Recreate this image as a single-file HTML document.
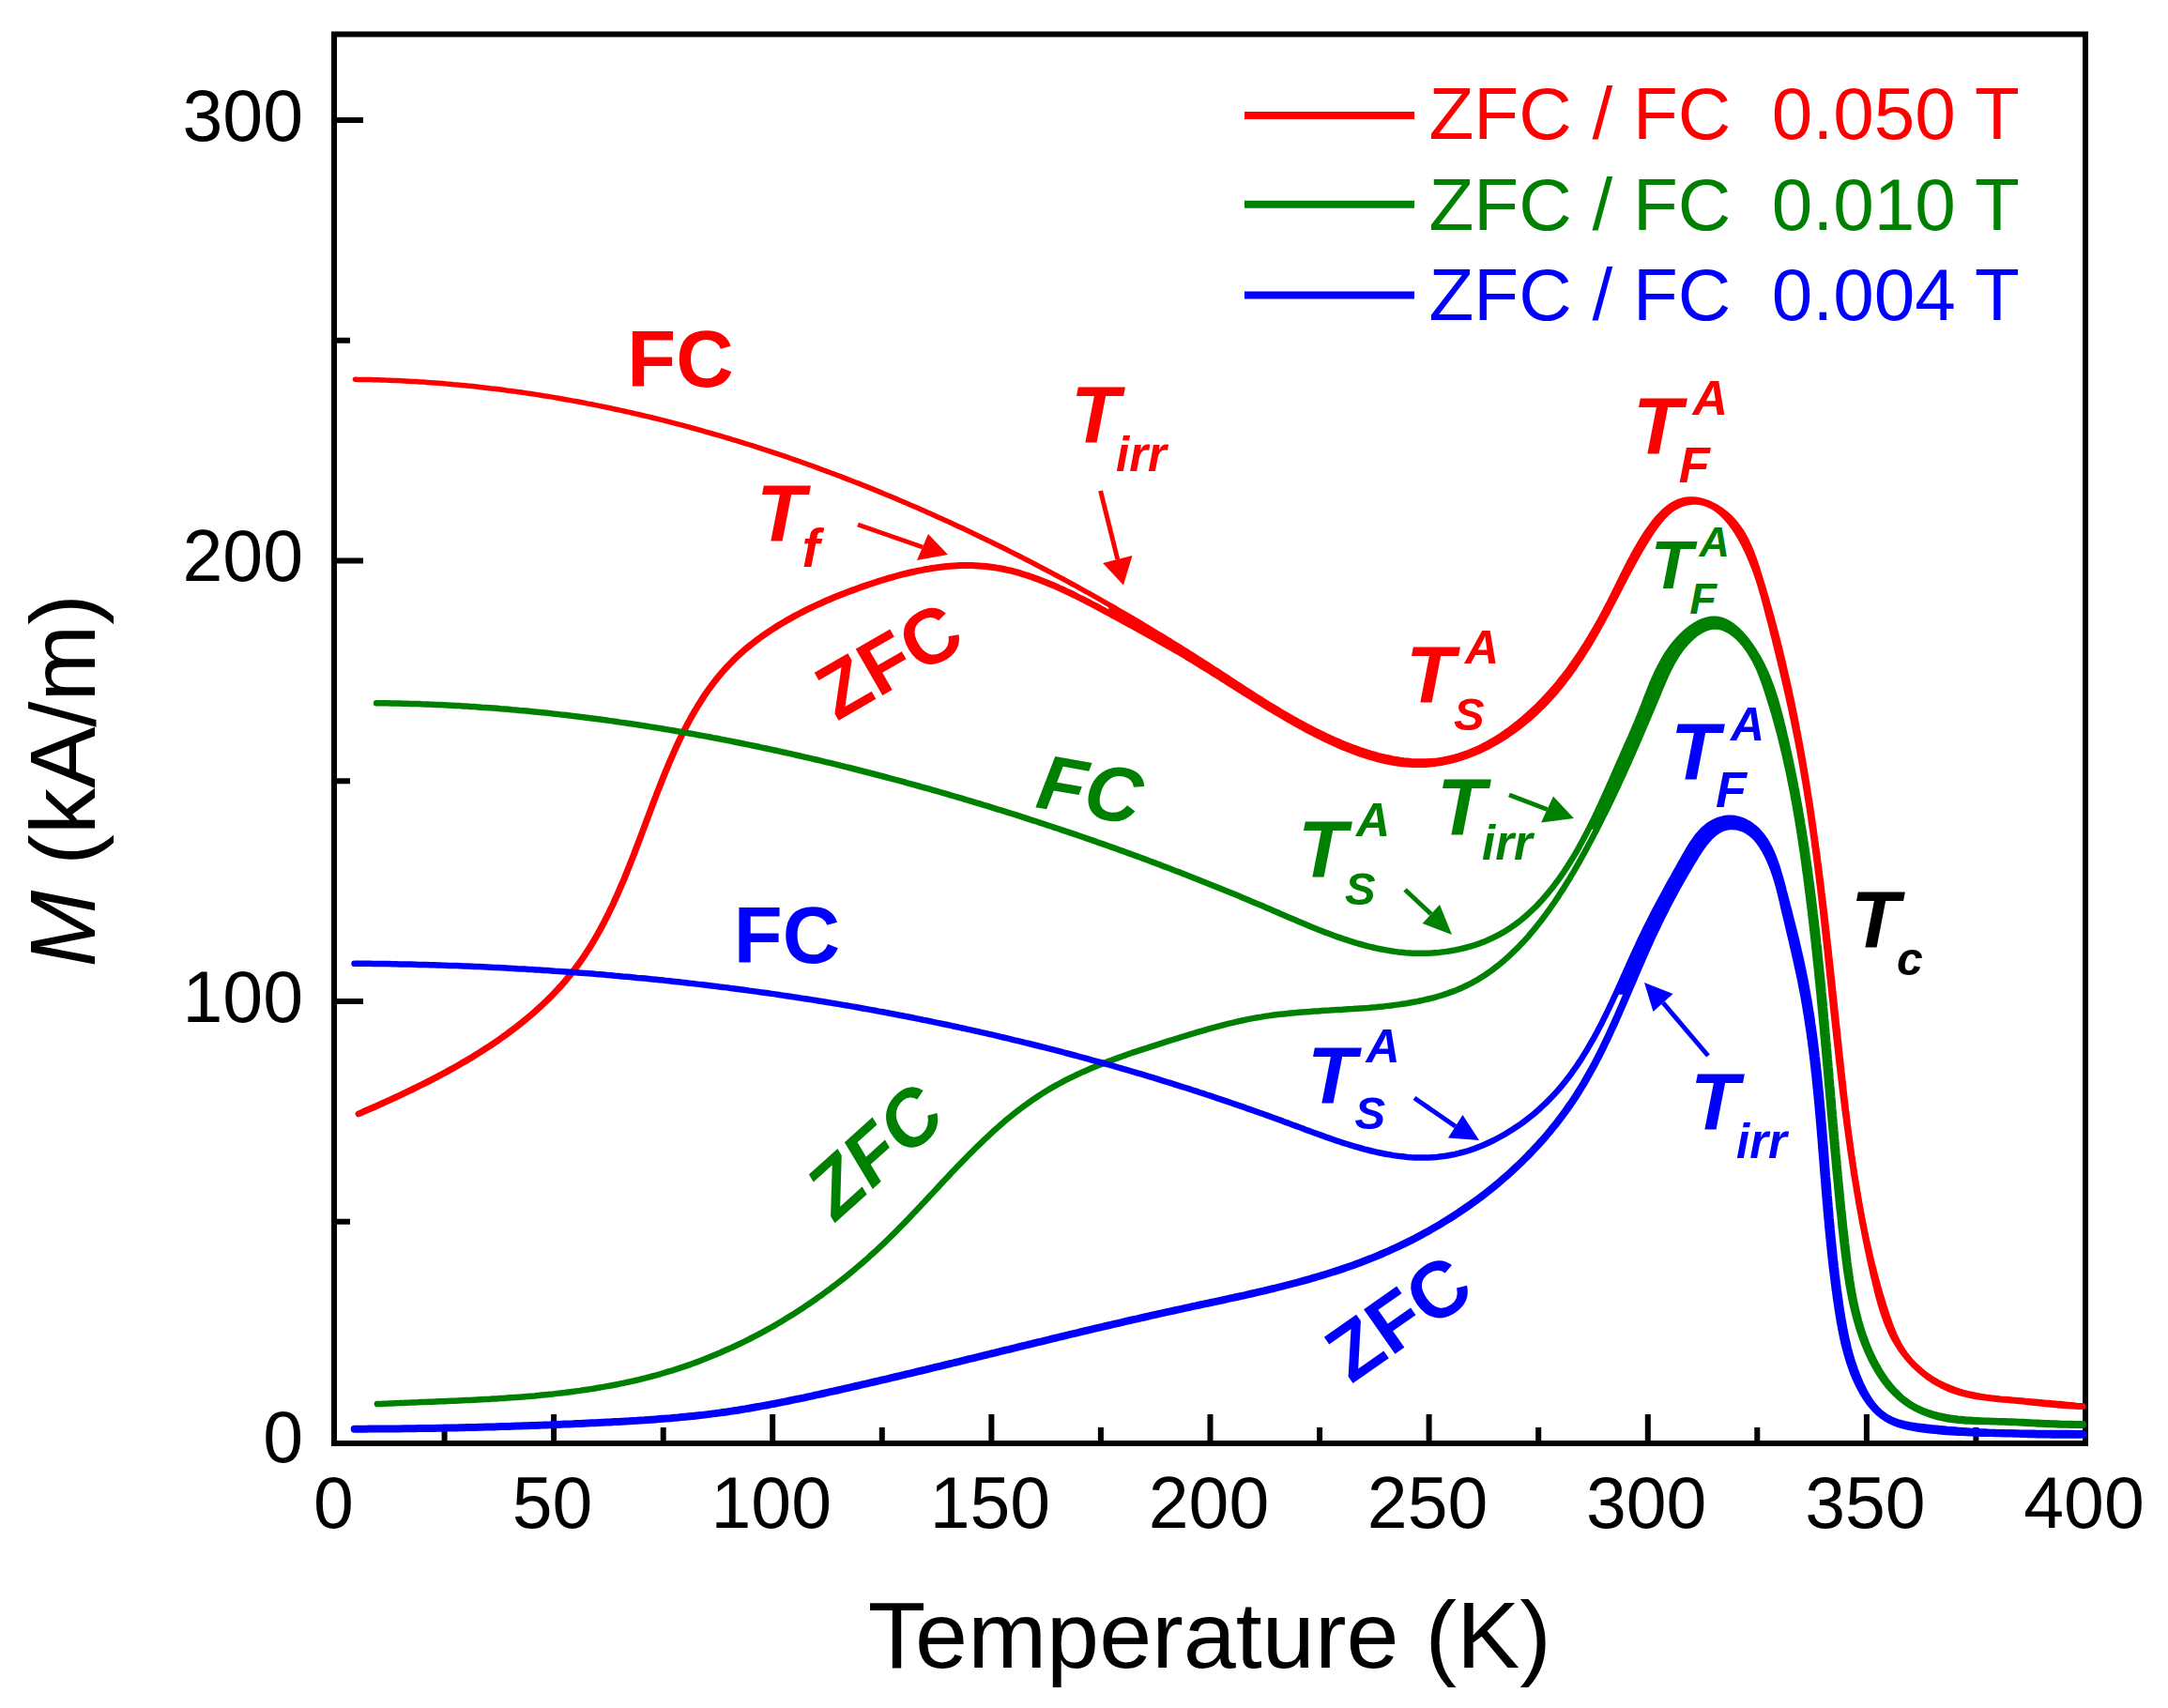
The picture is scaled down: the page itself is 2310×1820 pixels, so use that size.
<!DOCTYPE html><html><head><meta charset="utf-8"><title>M vs T</title><style>html,body{margin:0;padding:0;background:#fff;width:2310px;height:1820px;overflow:hidden}svg text{font-family:"Liberation Sans",Arial,sans-serif}</style></head><body><svg xmlns="http://www.w3.org/2000/svg" width="2310" height="1820" viewBox="0 0 2310 1820" style="display:block"><rect width="100%" height="100%" fill="#fff"/><rect x="356" y="36.5" width="1866" height="1501.5" fill="none" stroke="#000" stroke-width="6"/>
<path d="M473.6,1538.0V1521.0M590.1,1538.0V1507.0M706.7,1538.0V1521.0M823.2,1538.0V1507.0M939.8,1538.0V1521.0M1056.4,1538.0V1507.0M1172.9,1538.0V1521.0M1289.5,1538.0V1507.0M1406.1,1538.0V1521.0M1522.6,1538.0V1507.0M1639.2,1538.0V1521.0M1755.8,1538.0V1507.0M1872.3,1538.0V1521.0M1988.9,1538.0V1507.0M2105.4,1538.0V1521.0M356.0,1301.8H373.0M356.0,1067.0H387.0M356.0,832.2H373.0M356.0,597.5H387.0M356.0,362.8H373.0M356.0,128.0H387.0" stroke="#000" stroke-width="6" fill="none"/>
<text x="355.5" y="1628" style="font-size:77px" text-anchor="middle">0</text>
<text x="588.6" y="1628" style="font-size:77px" text-anchor="middle">50</text>
<text x="821.8" y="1628" style="font-size:77px" text-anchor="middle">100</text>
<text x="1054.9" y="1628" style="font-size:77px" text-anchor="middle">150</text>
<text x="1288.0" y="1628" style="font-size:77px" text-anchor="middle">200</text>
<text x="1521.1" y="1628" style="font-size:77px" text-anchor="middle">250</text>
<text x="1754.2" y="1628" style="font-size:77px" text-anchor="middle">300</text>
<text x="1987.4" y="1628" style="font-size:77px" text-anchor="middle">350</text>
<text x="2220.5" y="1628" style="font-size:77px" text-anchor="middle">400</text>
<text x="323" y="1558.0" style="font-size:77px" text-anchor="end">0</text>
<text x="323" y="1088.5" style="font-size:77px" text-anchor="end">100</text>
<text x="323" y="619.0" style="font-size:77px" text-anchor="end">200</text>
<text x="323" y="149.5" style="font-size:77px" text-anchor="end">300</text>
<text x="924.7" y="1777.0" style="font-size:100.8px;fill:#000000">Temperature (K)</text>
<text transform="translate(101,1030.5) rotate(-90)" style="font-size:98px"><tspan style="font-style:italic">M</tspan> (kA/m)</text>
<path d="M1326,123.0H1507" stroke="#ff0000" stroke-width="8"/>
<text x="1522.5" y="148.0" style="font-size:78.3px;fill:#ff0000" xml:space="preserve">ZFC / FC  0.050 T</text>
<path d="M1326,217.7H1507" stroke="#008000" stroke-width="8"/>
<text x="1522.5" y="245.0" style="font-size:78.3px;fill:#008000" xml:space="preserve">ZFC / FC  0.010 T</text>
<path d="M1326,314.6H1507" stroke="#0000ff" stroke-width="8"/>
<text x="1522.5" y="341.0" style="font-size:78.3px;fill:#0000ff" xml:space="preserve">ZFC / FC  0.004 T</text>
<path d="M1181.3,644.1L1184.8,646.0L1188.3,648.0L1191.7,650.1L1195.2,652.1L1198.7,654.1L1202.1,656.1L1205.6,658.1L1209.0,660.2L1212.5,662.2L1215.9,664.2L1219.3,666.3L1222.8,668.4L1226.2,670.4L1229.6,672.5L1233.0,674.6L1236.5,676.6L1239.9,678.7L1243.3,680.8L1246.7,682.9L1250.1,685.0L1253.5,687.1L1256.9,689.2L1260.3,691.3L1263.7,693.4L1267.0,695.6L1270.4,697.7L1273.8,699.8L1277.2,702.0L1280.5,704.1L1283.9,706.3L1287.2,708.4L1290.6,710.6L1293.9,712.7L1297.3,714.9L1300.6,717.1L1304.0,719.3L1307.3,721.4L1310.6,723.6L1314.0,725.8L1317.3,728.0L1320.7,730.1L1324.0,732.3L1327.3,734.5L1330.7,736.6L1334.1,738.8L1337.4,741.0L1340.8,743.1L1344.2,745.2L1347.5,747.4L1350.9,749.5L1354.3,751.6L1357.8,753.7L1361.2,755.7L1364.6,757.8L1368.1,759.8L1371.6,761.9L1375.0,763.9L1378.5,765.9L1382.1,767.8L1385.6,769.8L1389.2,771.7L1392.7,773.6L1396.3,775.5L1399.9,777.4L1403.6,779.2L1407.2,781.0L1410.9,782.8L1414.6,784.6L1418.4,786.3L1422.1,788.0L1425.9,789.6L1429.7,791.2L1433.5,792.8L1437.3,794.3L1441.2,795.8L1445.0,797.2L1448.9,798.6L1452.8,799.9L1456.7,801.2L1460.6,802.4L1464.5,803.5L1468.4,804.6L1472.4,805.6L1476.3,806.5L1480.2,807.3L1484.1,808.1L1488.1,808.8L1492.0,809.4L1495.9,809.9L1499.8,810.3L1503.8,810.7L1507.7,810.9L1511.6,811.0L1515.5,811.1L1519.3,811.0L1523.2,810.8L1527.1,810.6L1530.9,810.2L1534.7,809.6L1538.5,809.0L1542.3,808.3L1546.1,807.4L1549.9,806.5L1553.6,805.4L1557.3,804.2L1561.0,802.9L1564.7,801.6L1568.3,800.1L1571.9,798.5L1575.5,796.9L1579.1,795.1L1582.6,793.3L1586.1,791.4L1589.6,789.4L1593.1,787.4L1596.5,785.2L1599.9,783.0L1603.2,780.7L1606.6,778.4L1609.9,776.0L1613.1,773.5L1616.3,771.0L1619.5,768.4L1622.6,765.8L1625.7,763.1L1628.8,760.3L1631.8,757.6L1634.8,754.7L1637.8,751.9L1640.7,749.0L1643.5,746.1L1646.3,743.1L1649.1,740.1L1651.8,737.1L1654.5,734.0L1657.1,731.0L1659.7,727.9L1662.2,724.8L1664.7,721.6L1667.2,718.5L1669.6,715.3L1672.0,712.1L1674.3,708.8L1676.6,705.6L1678.9,702.3L1681.1,699.0L1683.3,695.7L1685.5,692.4L1687.6,689.1L1689.8,685.7L1691.8,682.3L1693.9,678.9L1695.9,675.5L1697.9,672.1L1699.9,668.7L1701.9,665.2L1703.8,661.7L1705.7,658.3L1707.6,654.8L1709.5,651.3L1711.3,647.7L1713.1,644.2L1715.0,640.7L1716.8,637.1L1718.5,633.6L1720.3,630.0L1722.1,626.4L1723.9,622.8L1725.6,619.3L1727.4,615.7L1729.2,612.1L1731.0,608.4L1732.8,604.8L1734.7,601.2L1736.5,597.6L1738.5,594.0L1740.4,590.3L1742.5,586.7L1744.5,583.1L1746.7,579.4L1748.8,575.8L1751.1,572.2L1753.4,568.6L1755.8,565.0L1758.3,561.5L1760.8,558.1L1763.4,554.8L1766.1,551.6L1768.9,548.6L1771.7,545.8L1774.6,543.1L1777.6,540.7L1780.6,538.6L1783.7,536.7L1786.9,535.1L1790.2,533.8L1793.5,532.8L1797.0,532.2L1800.5,531.9L1804.0,531.9L1807.6,532.3L1811.1,532.9L1814.7,533.8L1818.3,535.0L1821.8,536.4L1825.3,538.1L1828.7,539.9L1832.0,542.0L1835.3,544.3L1838.4,546.7L1841.4,549.3L1844.3,552.1L1847.1,555.0L1849.6,558.0L1852.0,561.1L1854.3,564.3L1856.4,567.6L1858.4,571.0L1860.3,574.5L1862.0,578.1L1863.7,581.7L1865.3,585.4L1866.8,589.1L1868.2,592.9L1869.6,596.7L1870.9,600.5L1872.2,604.4L1873.4,608.3L1874.6,612.2L1875.8,616.1L1877.0,620.0L1878.2,623.9L1879.4,627.8L1880.5,631.7L1881.7,635.6L1882.8,639.5L1883.9,643.4L1885.0,647.3L1886.1,651.2L1887.2,655.1L1888.3,659.0L1889.3,662.9L1890.4,666.8L1891.4,670.7L1892.4,674.6L1893.4,678.5L1894.4,682.4L1895.4,686.4L1896.4,690.3L1897.4,694.2L1898.3,698.1L1899.3,702.0L1900.2,706.0L1901.1,709.9L1902.0,713.8L1902.9,717.7L1903.8,721.6L1904.7,725.6L1905.6,729.5L1906.5,733.4L1907.3,737.4L1908.1,741.3L1909.0,745.2L1909.8,749.1L1910.6,753.1L1911.4,757.0L1912.2,760.9L1913.0,764.9L1913.8,768.8L1914.6,772.8L1915.3,776.7L1916.1,780.6L1916.8,784.6L1917.5,788.5L1918.3,792.5L1919.0,796.4L1919.7,800.4L1920.4,804.3L1921.1,808.2L1921.8,812.2L1922.5,816.1L1923.1,820.1L1923.8,824.0L1924.5,828.0L1925.1,831.9L1925.8,835.9L1926.4,839.8L1927.0,843.8L1927.6,847.8L1928.3,851.7L1928.9,855.7L1929.5,859.6L1930.1,863.6L1930.7,867.5L1931.2,871.5L1931.8,875.5L1932.4,879.4L1933.0,883.4L1933.5,887.3L1934.1,891.3L1934.6,895.3L1935.2,899.2L1935.7,903.2L1936.3,907.2L1936.8,911.1L1937.3,915.1L1937.8,919.1L1938.4,923.0L1938.9,927.0L1939.4,931.0L1939.9,935.0L1940.4,938.9L1940.9,942.9L1941.4,946.9L1941.8,950.8L1942.3,954.8L1942.8,958.8L1943.3,962.8L1943.8,966.7L1944.2,970.7L1944.7,974.7L1945.2,978.7L1945.6,982.7L1946.1,986.6L1946.5,990.6L1947.0,994.6L1947.4,998.6L1947.9,1002.5L1948.3,1006.5L1948.8,1010.5L1949.2,1014.5L1949.6,1018.5L1950.1,1022.5L1950.5,1026.4L1950.9,1030.4L1951.4,1034.4L1951.8,1038.4L1952.2,1042.4L1952.7,1046.4L1953.1,1050.3L1953.5,1054.3L1953.9,1058.3L1954.4,1062.3L1954.8,1066.3L1955.2,1070.3L1955.6,1074.3L1956.1,1078.3L1956.5,1082.2L1956.9,1086.2L1957.3,1090.2L1957.7,1094.2L1958.2,1098.2L1958.6,1102.2L1959.0,1106.2L1959.4,1110.2L1959.9,1114.2L1960.3,1118.2L1960.7,1122.2L1961.1,1126.1L1961.6,1130.1L1962.0,1134.1L1962.4,1138.1L1962.8,1142.1L1963.3,1146.1L1963.7,1150.1L1964.2,1154.1L1964.6,1158.1L1965.0,1162.1L1965.5,1166.1L1965.9,1170.1L1966.4,1174.1L1966.9,1178.0L1967.3,1182.0L1967.8,1186.0L1968.3,1190.0L1968.8,1194.0L1969.2,1198.0L1969.7,1202.0L1970.2,1206.0L1970.7,1209.9L1971.3,1213.9L1971.8,1217.9L1972.3,1221.9L1972.9,1225.9L1973.4,1229.8L1974.0,1233.8L1974.5,1237.8L1975.1,1241.8L1975.7,1245.7L1976.3,1249.7L1976.9,1253.7L1977.5,1257.6L1978.2,1261.6L1978.8,1265.6L1979.5,1269.5L1980.1,1273.5L1980.8,1277.4L1981.5,1281.4L1982.2,1285.3L1982.9,1289.3L1983.7,1293.2L1984.4,1297.2L1985.2,1301.1L1986.0,1305.0L1986.8,1309.0L1987.6,1312.9L1988.4,1316.8L1989.2,1320.8L1989.3,1326.9L1988.5,1323.0L1987.7,1319.0L1986.9,1315.1L1986.2,1311.2L1985.4,1307.2L1984.6,1303.3L1983.9,1299.4L1983.2,1295.4L1982.5,1291.5L1981.7,1287.5L1981.0,1283.6L1980.3,1279.6L1979.7,1275.7L1979.0,1271.7L1978.3,1267.8L1977.7,1263.8L1977.0,1259.9L1976.4,1255.9L1975.7,1252.0L1975.1,1248.0L1974.5,1244.0L1973.9,1240.1L1973.3,1236.1L1972.7,1232.2L1972.1,1228.2L1971.5,1224.2L1971.0,1220.3L1970.4,1216.3L1969.9,1212.3L1969.3,1208.4L1968.8,1204.4L1968.2,1200.4L1967.7,1196.5L1967.2,1192.5L1966.6,1188.5L1966.1,1184.5L1965.6,1180.6L1965.1,1176.6L1964.6,1172.6L1964.1,1168.6L1963.6,1164.7L1963.1,1160.7L1962.7,1156.7L1962.2,1152.7L1961.7,1148.8L1961.2,1144.8L1960.8,1140.8L1960.3,1136.8L1959.8,1132.8L1959.4,1128.9L1958.9,1124.9L1958.5,1120.9L1958.1,1116.9L1957.6,1112.9L1957.2,1109.0L1956.7,1105.0L1956.3,1101.0L1955.9,1097.0L1955.4,1093.0L1955.0,1089.0L1954.6,1085.1L1954.1,1081.1L1953.7,1077.1L1953.3,1073.1L1952.9,1069.1L1952.5,1065.1L1952.0,1061.2L1951.6,1057.2L1951.2,1053.2L1950.8,1049.2L1950.4,1045.2L1949.9,1041.2L1949.5,1037.3L1949.1,1033.3L1948.7,1029.3L1948.2,1025.3L1947.8,1021.3L1947.4,1017.3L1947.0,1013.4L1946.5,1009.4L1946.1,1005.4L1945.7,1001.4L1945.3,997.4L1944.8,993.5L1944.4,989.5L1943.9,985.5L1943.5,981.5L1943.1,977.5L1942.6,973.6L1942.2,969.6L1941.7,965.6L1941.2,961.6L1940.8,957.6L1940.3,953.7L1939.8,949.7L1939.4,945.7L1938.9,941.7L1938.4,937.8L1937.9,933.8L1937.4,929.8L1936.9,925.8L1936.4,921.9L1935.9,917.9L1935.4,913.9L1934.9,909.9L1934.4,906.0L1933.8,902.0L1933.3,898.0L1932.8,894.1L1932.2,890.1L1931.7,886.1L1931.1,882.2L1930.5,878.2L1930.0,874.2L1929.4,870.3L1928.8,866.3L1928.2,862.3L1927.6,858.4L1927.0,854.4L1926.3,850.5L1925.7,846.5L1925.1,842.5L1924.4,838.6L1923.8,834.6L1923.1,830.7L1922.4,826.7L1921.8,822.8L1921.1,818.8L1920.4,814.9L1919.7,810.9L1918.9,807.0L1918.2,803.0L1917.5,799.1L1916.7,795.1L1916.0,791.2L1915.2,787.2L1914.4,783.3L1913.6,779.3L1912.8,775.4L1912.0,771.5L1911.2,767.5L1910.3,763.6L1909.5,759.7L1908.7,755.7L1907.8,751.8L1906.9,747.9L1906.1,744.0L1905.2,740.0L1904.3,736.1L1903.4,732.2L1902.5,728.3L1901.6,724.4L1900.7,720.5L1899.8,716.6L1898.9,712.7L1897.9,708.8L1897.0,704.9L1896.0,701.0L1895.1,697.2L1894.1,693.3L1893.2,689.4L1892.2,685.6L1891.3,681.7L1890.3,677.8L1889.3,674.0L1888.4,670.1L1887.4,666.3L1886.4,662.5L1885.4,658.6L1884.4,654.8L1883.4,651.0L1882.4,647.2L1881.4,643.4L1880.4,639.6L1879.4,635.8L1878.3,632.0L1877.2,628.2L1876.1,624.4L1874.9,620.6L1873.7,616.8L1872.4,613.0L1871.1,609.2L1869.7,605.4L1868.2,601.7L1866.7,597.9L1865.1,594.0L1863.4,590.2L1861.7,586.4L1859.8,582.6L1857.9,578.8L1855.8,575.0L1853.7,571.3L1851.5,567.6L1849.2,564.1L1846.8,560.6L1844.3,557.3L1841.7,554.1L1839.0,551.0L1836.2,548.2L1833.4,545.6L1830.4,543.2L1827.3,541.0L1824.2,539.1L1820.9,537.5L1817.6,536.2L1814.1,535.2L1810.6,534.6L1807.0,534.3L1803.3,534.3L1799.7,534.7L1796.0,535.4L1792.4,536.5L1788.9,537.8L1785.5,539.5L1782.2,541.5L1779.1,543.8L1776.1,546.4L1773.3,549.2L1770.5,552.2L1767.9,555.3L1765.3,558.6L1762.8,562.0L1760.4,565.4L1758.1,568.9L1755.9,572.4L1753.7,575.9L1751.5,579.4L1749.4,582.9L1747.3,586.5L1745.3,590.0L1743.3,593.5L1741.4,597.0L1739.5,600.5L1737.6,604.0L1735.7,607.5L1733.8,611.0L1732.0,614.5L1730.2,618.0L1728.3,621.5L1726.5,625.1L1724.7,628.6L1722.9,632.1L1721.1,635.6L1719.2,639.2L1717.4,642.7L1715.5,646.2L1713.7,649.8L1711.8,653.3L1709.9,656.8L1708.0,660.3L1706.1,663.8L1704.1,667.4L1702.2,670.9L1700.2,674.3L1698.2,677.8L1696.2,681.3L1694.1,684.7L1692.1,688.2L1690.0,691.6L1687.8,695.0L1685.7,698.4L1683.5,701.8L1681.3,705.1L1679.0,708.4L1676.8,711.7L1674.4,715.0L1672.1,718.3L1669.7,721.5L1667.3,724.7L1664.8,727.9L1662.3,731.0L1659.8,734.1L1657.2,737.2L1654.5,740.2L1651.9,743.2L1649.1,746.2L1646.4,749.1L1643.5,752.0L1640.7,754.8L1637.7,757.7L1634.8,760.4L1631.7,763.1L1628.7,765.8L1625.6,768.4L1622.4,771.0L1619.2,773.5L1616.0,776.0L1612.7,778.4L1609.4,780.7L1606.1,783.0L1602.7,785.2L1599.3,787.4L1595.8,789.4L1592.3,791.5L1588.8,793.4L1585.3,795.3L1581.7,797.1L1578.1,798.8L1574.5,800.5L1570.8,802.0L1567.1,803.5L1563.4,804.9L1559.7,806.2L1556.0,807.4L1552.2,808.6L1548.5,809.6L1544.7,810.6L1540.9,811.4L1537.1,812.2L1533.2,812.8L1529.4,813.4L1525.6,813.8L1521.7,814.2L1517.8,814.4L1514.0,814.6L1510.1,814.6L1506.2,814.5L1502.3,814.3L1498.5,814.1L1494.6,813.7L1490.7,813.2L1486.8,812.7L1482.9,812.0L1479.0,811.3L1475.2,810.5L1471.3,809.6L1467.4,808.6L1463.5,807.5L1459.7,806.4L1455.8,805.2L1452.0,804.0L1448.1,802.7L1444.3,801.3L1440.5,799.8L1436.6,798.3L1432.8,796.8L1429.0,795.2L1425.2,793.6L1421.5,791.9L1417.7,790.1L1414.0,788.4L1410.2,786.6L1406.5,784.7L1402.8,782.9L1399.1,781.0L1395.5,779.1L1391.8,777.1L1388.2,775.1L1384.6,773.2L1381.0,771.2L1377.5,769.2L1373.9,767.2L1370.4,765.1L1366.9,763.1L1363.4,761.0L1359.9,759.0L1356.5,756.9L1353.0,754.9L1349.6,752.8L1346.2,750.7L1342.8,748.6L1339.4,746.5L1336.1,744.5L1332.7,742.4L1329.4,740.3L1326.0,738.2L1322.7,736.1L1319.3,734.0L1316.0,731.9L1312.7,729.8L1309.3,727.7L1306.0,725.6L1302.7,723.5L1299.4,721.4L1296.1,719.3L1292.7,717.2L1289.4,715.1L1286.1,713.0L1282.7,710.9L1279.4,708.9L1276.0,706.8L1272.7,704.7L1269.3,702.7L1265.9,700.7L1262.5,698.6L1259.1,696.6L1255.7,694.6L1252.3,692.6L1248.8,690.6L1245.4,688.6L1241.9,686.6L1238.4,684.7L1234.9,682.7L1231.4,680.7L1227.9,678.8L1224.4,676.8L1220.9,674.9L1217.3,672.9L1213.8,671.0L1210.2,669.0L1206.6,667.0L1203.1,665.1L1199.5,663.1L1195.9,661.2L1192.3,659.2L1188.7,657.2L1185.0,655.3L1181.4,653.3Z" fill="#ff0000"/>
<path d="M382.1,1186.9L385.6,1185.4L389.1,1183.8L392.6,1182.3L396.1,1180.8L399.7,1179.2L403.2,1177.6L406.7,1176.0L410.3,1174.4L413.9,1172.8L417.4,1171.1L421.0,1169.5L424.6,1167.8L428.2,1166.1L431.8,1164.4L435.4,1162.7L439.0,1161.0L442.6,1159.2L446.2,1157.4L449.8,1155.7L453.4,1153.8L457.0,1152.0L460.6,1150.2L464.1,1148.3L467.7,1146.4L471.3,1144.5L474.9,1142.6L478.4,1140.6L482.0,1138.7L485.5,1136.7L489.0,1134.7L492.6,1132.6L496.1,1130.6L499.6,1128.5L503.1,1126.4L506.5,1124.3L510.0,1122.1L513.4,1120.0L516.8,1117.8L520.2,1115.6L523.6,1113.3L527.0,1111.1L530.3,1108.8L533.6,1106.5L536.9,1104.1L540.2,1101.8L543.4,1099.4L546.7,1096.9L549.9,1094.5L553.0,1092.0L556.2,1089.5L559.3,1087.0L562.4,1084.4L565.4,1081.9L568.4,1079.3L571.4,1076.6L574.4,1073.9L577.3,1071.2L580.2,1068.5L583.1,1065.8L585.9,1063.0L588.7,1060.2L591.4,1057.3L594.1,1054.4L596.8,1051.5L599.4,1048.6L602.0,1045.6L604.5,1042.6L607.0,1039.6L609.5,1036.5L611.9,1033.4L614.3,1030.2L616.6,1027.1L618.9,1023.9L621.1,1020.6L623.3,1017.4L625.4,1014.1L627.6,1010.8L629.7,1007.4L631.7,1004.1L633.7,1000.7L635.7,997.3L637.6,993.8L639.6,990.4L641.4,986.9L643.3,983.4L645.1,979.8L646.9,976.3L648.7,972.7L650.4,969.1L652.2,965.5L653.9,961.9L655.5,958.2L657.2,954.6L658.8,950.9L660.4,947.2L662.0,943.5L663.6,939.8L665.2,936.1L666.7,932.3L668.2,928.6L669.7,924.8L671.2,921.1L672.7,917.3L674.2,913.5L675.7,909.7L677.1,905.9L678.6,902.1L680.0,898.3L681.5,894.5L682.9,890.7L684.3,886.9L685.8,883.0L687.2,879.2L688.6,875.4L690.1,871.6L691.5,867.8L692.9,864.0L694.4,860.1L695.8,856.3L697.2,852.5L698.7,848.7L700.1,844.9L701.6,841.2L703.1,837.4L704.6,833.6L706.1,829.8L707.6,826.1L709.1,822.4L710.7,818.6L712.2,814.9L713.8,811.2L715.4,807.5L717.0,803.8L718.6,800.2L720.3,796.5L721.9,792.9L723.6,789.3L725.3,785.7L727.1,782.1L728.9,778.6L730.7,775.1L732.5,771.5L734.4,768.1L736.3,764.6L738.2,761.2L740.2,757.8L742.2,754.4L744.2,751.1L746.3,747.8L748.4,744.5L750.5,741.2L752.7,738.0L755.0,734.8L757.2,731.7L759.6,728.6L761.9,725.5L764.3,722.5L766.8,719.5L769.3,716.5L771.9,713.6L774.5,710.7L777.2,707.9L779.9,705.1L782.7,702.3L785.5,699.6L788.4,696.9L791.3,694.3L794.3,691.7L797.3,689.2L800.4,686.7L803.6,684.3L806.7,681.8L809.9,679.5L813.2,677.1L816.5,674.8L819.8,672.6L823.2,670.4L826.6,668.2L830.0,666.1L833.5,664.0L837.0,661.9L840.6,659.9L844.1,657.9L847.7,655.9L851.4,654.0L855.0,652.1L858.7,650.2L862.4,648.4L866.1,646.6L869.8,644.9L873.6,643.2L877.4,641.5L881.1,639.8L884.9,638.2L888.8,636.6L892.6,635.0L896.4,633.5L900.3,632.0L904.1,630.5L908.0,629.1L911.9,627.7L915.7,626.3L919.6,624.9L923.5,623.6L927.4,622.3L931.2,621.0L935.1,619.7L939.0,618.5L942.8,617.3L946.7,616.2L950.6,615.1L954.4,614.0L958.3,612.9L962.2,611.9L966.0,611.0L969.9,610.0L973.8,609.2L977.6,608.3L981.5,607.6L985.3,606.8L989.2,606.2L993.0,605.5L996.9,605.0L1000.7,604.4L1004.6,604.0L1008.4,603.6L1012.3,603.2L1016.1,603.0L1020.0,602.8L1023.8,602.6L1027.6,602.5L1031.5,602.5L1035.3,602.6L1039.1,602.7L1042.9,602.9L1046.7,603.2L1050.6,603.5L1054.4,604.0L1058.2,604.5L1062.0,605.1L1065.8,605.7L1069.6,606.5L1073.4,607.3L1077.2,608.2L1081.0,609.2L1084.8,610.2L1088.5,611.3L1092.3,612.5L1096.1,613.7L1099.9,615.0L1103.6,616.4L1107.4,617.7L1111.1,619.2L1114.9,620.7L1118.6,622.2L1122.4,623.8L1126.1,625.4L1129.8,627.1L1133.6,628.8L1137.3,630.6L1141.0,632.3L1144.7,634.1L1148.4,636.0L1152.1,637.8L1155.8,639.7L1159.5,641.6L1163.1,643.5L1166.8,645.4L1170.5,647.4L1174.1,649.3L1177.8,651.3L1181.4,653.3L1185.0,655.3L1188.7,657.2L1192.3,659.2L1195.9,661.2L1199.5,663.1L1203.1,665.1L1206.6,667.0L1210.2,669.0L1213.8,671.0L1217.3,672.9L1220.9,674.9L1224.4,676.8L1227.9,678.8L1231.4,680.7L1234.9,682.7L1238.4,684.7L1241.9,686.6L1245.4,688.6L1248.8,690.6L1252.3,692.6L1255.7,694.6L1259.1,696.6L1262.5,698.6L1265.9,700.7L1269.3,702.7L1272.7,704.7L1276.0,706.8L1279.4,708.9L1282.7,710.9L1286.1,713.0L1289.4,715.1L1292.7,717.2L1296.1,719.3L1299.4,721.4L1302.7,723.5L1306.0,725.6L1309.3,727.7L1312.7,729.8L1316.0,731.9L1319.3,734.0L1322.7,736.1L1326.0,738.2L1329.4,740.3L1332.7,742.4L1336.1,744.5L1339.4,746.5L1342.8,748.6L1346.2,750.7L1349.6,752.8L1353.0,754.9L1356.5,756.9L1359.9,759.0L1363.4,761.0L1366.9,763.1L1370.4,765.1L1373.9,767.2L1377.5,769.2L1381.0,771.2L1384.6,773.2L1388.2,775.1L1391.8,777.1L1395.5,779.1L1399.1,781.0L1402.8,782.9L1406.5,784.7L1410.2,786.6L1414.0,788.4L1417.7,790.1L1421.5,791.9L1425.2,793.6L1429.0,795.2L1432.8,796.8L1436.6,798.3L1440.5,799.8L1444.3,801.3L1448.1,802.7L1452.0,804.0L1455.8,805.2L1459.7,806.4L1463.5,807.5L1467.4,808.6L1471.3,809.6L1475.2,810.5L1479.0,811.3L1482.9,812.0L1486.8,812.7L1490.7,813.2L1494.6,813.7L1498.5,814.1L1502.3,814.3L1506.2,814.5L1510.1,814.6L1514.0,814.6L1517.8,814.4L1521.7,814.2L1525.6,813.8L1529.4,813.4L1533.2,812.8L1537.1,812.2L1540.9,811.4L1544.7,810.6L1548.5,809.6L1552.2,808.6L1556.0,807.4L1559.7,806.2L1563.4,804.9L1567.1,803.5L1570.8,802.0L1574.5,800.5L1578.1,798.8L1581.7,797.1L1585.3,795.3L1588.8,793.4L1592.3,791.5L1595.8,789.4L1599.3,787.4L1602.7,785.2L1606.1,783.0L1609.4,780.7L1612.7,778.4L1616.0,776.0L1619.2,773.5L1622.4,771.0L1625.6,768.4L1628.7,765.8L1631.7,763.1L1634.8,760.4L1637.7,757.7L1640.7,754.8L1643.5,752.0L1646.4,749.1L1649.1,746.2L1651.9,743.2L1654.5,740.2L1657.2,737.2L1659.8,734.1L1662.3,731.0L1664.8,727.9L1667.3,724.7L1669.7,721.5L1672.1,718.3L1674.4,715.0L1676.8,711.7L1679.0,708.4L1681.3,705.1L1683.5,701.8L1685.7,698.4L1687.8,695.0L1690.0,691.6L1692.1,688.2L1694.1,684.7L1696.2,681.3L1698.2,677.8L1700.2,674.3L1702.2,670.9L1704.1,667.4L1706.1,663.8L1708.0,660.3L1709.9,656.8L1711.8,653.3L1713.7,649.8L1715.5,646.2L1717.4,642.7L1719.2,639.2L1721.1,635.6L1722.9,632.1L1724.7,628.6L1726.5,625.1L1728.3,621.5L1730.2,618.0L1732.0,614.5L1733.8,611.0L1735.7,607.5L1737.6,604.0L1739.5,600.5L1741.4,597.0L1743.3,593.5L1745.3,590.0L1747.3,586.5L1749.4,582.9L1751.5,579.4L1753.7,575.9L1755.9,572.4L1758.1,568.9L1760.4,565.4L1762.8,562.0L1765.3,558.6L1767.9,555.3L1770.5,552.2L1773.3,549.2L1776.1,546.4L1779.1,543.8L1782.2,541.5L1785.5,539.5L1788.9,537.8L1792.4,536.5L1796.0,535.4L1799.7,534.7L1803.3,534.3L1807.0,534.3L1810.6,534.6L1814.1,535.2L1817.6,536.2L1820.9,537.5L1824.2,539.1L1827.3,541.0L1830.4,543.2L1833.4,545.6L1836.2,548.2L1839.0,551.0L1841.7,554.1L1844.3,557.3L1846.8,560.6L1849.2,564.1L1851.5,567.6L1853.7,571.3L1855.8,575.0L1857.9,578.8L1859.8,582.6L1861.7,586.4L1863.4,590.2L1865.1,594.0L1866.7,597.9L1868.2,601.7L1869.7,605.4L1871.1,609.2L1872.4,613.0L1873.7,616.8L1874.9,620.6L1876.1,624.4L1877.2,628.2L1878.3,632.0L1879.4,635.8L1880.4,639.6L1881.4,643.4L1882.4,647.2L1883.4,651.0L1884.4,654.8L1885.4,658.6L1886.4,662.5L1887.4,666.3L1888.4,670.1L1889.3,674.0L1890.3,677.8L1891.3,681.7L1892.2,685.6L1893.2,689.4L1894.1,693.3L1895.1,697.2L1896.0,701.0L1897.0,704.9L1897.9,708.8L1898.9,712.7L1899.8,716.6L1900.7,720.5L1901.6,724.4L1902.5,728.3L1903.4,732.2L1904.3,736.1L1905.2,740.0L1906.1,744.0L1906.9,747.9L1907.8,751.8L1908.7,755.7L1909.5,759.7L1910.3,763.6L1911.2,767.5L1912.0,771.5L1912.8,775.4L1913.6,779.3L1914.4,783.3L1915.2,787.2L1916.0,791.2L1916.7,795.1L1917.5,799.1L1918.2,803.0L1918.9,807.0L1919.7,810.9L1920.4,814.9L1921.1,818.8L1921.8,822.8L1922.4,826.7L1923.1,830.7L1923.8,834.6L1924.4,838.6L1925.1,842.5L1925.7,846.5L1926.3,850.5L1927.0,854.4L1927.6,858.4L1928.2,862.3L1928.8,866.3L1929.4,870.3L1930.0,874.2L1930.5,878.2L1931.1,882.2L1931.7,886.1L1932.2,890.1L1932.8,894.1L1933.3,898.0L1933.8,902.0L1934.4,906.0L1934.9,909.9L1935.4,913.9L1935.9,917.9L1936.4,921.9L1936.9,925.8L1937.4,929.8L1937.9,933.8L1938.4,937.8L1938.9,941.7L1939.4,945.7L1939.8,949.7L1940.3,953.7L1940.8,957.6L1941.2,961.6L1941.7,965.6L1942.2,969.6L1942.6,973.6L1943.1,977.5L1943.5,981.5L1943.9,985.5L1944.4,989.5L1944.8,993.5L1945.3,997.4L1945.7,1001.4L1946.1,1005.4L1946.5,1009.4L1947.0,1013.4L1947.4,1017.3L1947.8,1021.3L1948.2,1025.3L1948.7,1029.3L1949.1,1033.3L1949.5,1037.3L1949.9,1041.2L1950.4,1045.2L1950.8,1049.2L1951.2,1053.2L1951.6,1057.2L1952.0,1061.2L1952.5,1065.1L1952.9,1069.1L1953.3,1073.1L1953.7,1077.1L1954.1,1081.1L1954.6,1085.1L1955.0,1089.0L1955.4,1093.0L1955.9,1097.0L1956.3,1101.0L1956.7,1105.0L1957.2,1109.0L1957.6,1112.9L1958.1,1116.9L1958.5,1120.9L1958.9,1124.9L1959.4,1128.9L1959.8,1132.8L1960.3,1136.8L1960.8,1140.8L1961.2,1144.8L1961.7,1148.8L1962.2,1152.7L1962.7,1156.7L1963.1,1160.7L1963.6,1164.7L1964.1,1168.6L1964.6,1172.6L1965.1,1176.6L1965.6,1180.6L1966.1,1184.5L1966.6,1188.5L1967.2,1192.5L1967.7,1196.5L1968.2,1200.4L1968.8,1204.4L1969.3,1208.4L1969.9,1212.3L1970.4,1216.3L1971.0,1220.3L1971.5,1224.2L1972.1,1228.2L1972.7,1232.2L1973.3,1236.1L1973.9,1240.1L1974.5,1244.0L1975.1,1248.0L1975.7,1252.0L1976.4,1255.9L1977.0,1259.9L1977.7,1263.8L1978.3,1267.8L1979.0,1271.7L1979.7,1275.7L1980.3,1279.6L1981.0,1283.6L1981.7,1287.5L1982.5,1291.5L1983.2,1295.4L1983.9,1299.4L1984.6,1303.3L1985.4,1307.2L1986.2,1311.2L1986.9,1315.1L1987.7,1319.0L1988.5,1323.0L1989.3,1326.9L1990.1,1330.8L1990.9,1334.8L1991.8,1338.7L1992.6,1342.6L1993.5,1346.5L1994.4,1350.5L1995.2,1354.4L1996.1,1358.3L1997.0,1362.2L1998.0,1366.1L1998.9,1370.1L1999.9,1374.0L2000.8,1377.9L2001.8,1381.7L2002.9,1385.6L2004.0,1389.5L2005.1,1393.3L2006.3,1397.1L2007.6,1400.9L2008.9,1404.7L2010.3,1408.4L2011.7,1412.1L2013.3,1415.7L2014.9,1419.3L2016.7,1422.9L2018.5,1426.4L2020.5,1429.8L2022.6,1433.2L2024.7,1436.6L2027.1,1439.9L2029.5,1443.1L2032.0,1446.2L2034.6,1449.3L2037.4,1452.3L2040.2,1455.2L2043.1,1457.9L2046.1,1460.6L2049.2,1463.2L2052.4,1465.7L2055.6,1468.1L2059.0,1470.4L2062.4,1472.5L2065.8,1474.5L2069.4,1476.4L2072.9,1478.1L2076.6,1479.7L2080.3,1481.2L2084.0,1482.5L2087.8,1483.7L2091.6,1484.7L2095.5,1485.7L2099.3,1486.5L2103.3,1487.3L2107.2,1488.0L2111.2,1488.6L2115.2,1489.1L2119.2,1489.6L2123.2,1490.1L2127.2,1490.5L2131.2,1490.9L2135.3,1491.2L2139.3,1491.6L2143.3,1492.0L2147.3,1492.3L2151.3,1492.7L2155.3,1493.1L2159.3,1493.5L2163.3,1494.0L2167.3,1494.4L2171.2,1494.8L2175.2,1495.3L2179.1,1495.7L2183.1,1496.1L2187.1,1496.5L2191.0,1496.8L2195.0,1497.2L2199.0,1497.5L2203.0,1497.8L2207.0,1498.0L2211.0,1498.3L2215.0,1498.4L2219.1,1498.5" stroke="#ff0000" stroke-width="7" fill="none" stroke-linejoin="round" stroke-linecap="round"/>
<path d="M378.5,404.3L382.6,404.4L386.6,404.4L390.7,404.5L394.7,404.6L398.8,404.7L402.8,404.8L406.9,404.9L410.9,405.1L415.0,405.2L419.0,405.4L423.0,405.6L427.1,405.8L431.1,406.0L435.2,406.2L439.2,406.4L443.2,406.6L447.3,406.9L451.3,407.1L455.3,407.4L459.3,407.7L463.4,408.0L467.4,408.3L471.4,408.6L475.4,409.0L479.4,409.3L483.4,409.7L487.4,410.0L491.5,410.4L495.5,410.8L499.5,411.2L503.5,411.6L507.5,412.0L511.5,412.5L515.5,412.9L519.5,413.4L523.4,413.9L527.4,414.3L531.4,414.8L535.4,415.3L539.4,415.9L543.4,416.4L547.4,416.9L551.3,417.5L555.3,418.0L559.3,418.6L563.3,419.2L567.2,419.8L571.2,420.4L575.2,421.0L579.1,421.7L583.1,422.3L587.0,422.9L591.0,423.6L594.9,424.3L598.9,425.0L602.8,425.7L606.8,426.4L610.7,427.1L614.7,427.8L618.6,428.5L622.6,429.3L626.5,430.1L630.4,430.8L634.4,431.6L638.3,432.4L642.2,433.2L646.1,434.0L650.0,434.8L654.0,435.7L657.9,436.5L661.8,437.4L665.7,438.2L669.6,439.1L673.5,440.0L677.4,440.9L681.3,441.8L685.2,442.7L689.1,443.6L693.0,444.5L696.9,445.5L700.8,446.4L704.7,447.4L708.6,448.4L712.5,449.4L716.3,450.4L720.2,451.4L724.1,452.4L728.0,453.4L731.8,454.4L735.7,455.5L739.6,456.5L743.4,457.6L747.3,458.7L751.1,459.8L755.0,460.9L758.8,462.0L762.7,463.1L766.5,464.2L770.4,465.3L774.2,466.5L778.0,467.6L781.9,468.8L785.7,469.9L789.5,471.1L793.4,472.3L797.2,473.5L801.0,474.7L804.8,475.9L808.6,477.1L812.4,478.4L816.3,479.6L820.1,480.8L823.9,482.1L827.7,483.4L831.5,484.7L835.3,485.9L839.1,487.2L842.8,488.5L846.6,489.8L850.4,491.2L854.2,492.5L858.0,493.8L861.7,495.2L865.5,496.5L869.3,497.9L873.1,499.3L876.8,500.7L880.6,502.1L884.3,503.5L888.1,504.9L891.8,506.3L895.6,507.7L899.3,509.1L903.1,510.6L906.8,512.0L910.5,513.5L914.3,514.9L918.0,516.4L921.7,517.9L925.5,519.4L929.2,520.9L932.9,522.4L936.6,523.9L940.3,525.4L944.0,527.0L947.7,528.5L951.4,530.0L955.1,531.6L958.8,533.2L962.5,534.7L966.2,536.3L969.9,537.9L973.6,539.5L977.3,541.1L980.9,542.7L984.6,544.3L988.3,545.9L991.9,547.6L995.6,549.2L999.3,550.9L1002.9,552.5L1006.6,554.2L1010.2,555.8L1013.9,557.5L1017.5,559.2L1021.2,560.9L1024.8,562.6L1028.4,564.3L1032.1,566.0L1035.7,567.7L1039.3,569.5L1042.9,571.2L1046.5,572.9L1050.2,574.7L1053.8,576.4L1057.4,578.2L1061.0,580.0L1064.6,581.7L1068.2,583.5L1071.8,585.3L1075.3,587.1L1078.9,588.9L1082.5,590.7L1086.1,592.5L1089.7,594.4L1093.2,596.2L1096.8,598.0L1100.4,599.9L1103.9,601.7L1107.5,603.6L1111.0,605.5L1114.6,607.3L1118.1,609.2L1121.7,611.1L1125.2,613.0L1128.7,614.9L1132.3,616.8L1135.8,618.7L1139.3,620.6L1142.8,622.5L1146.4,624.4L1149.9,626.4L1153.4,628.3L1156.9,630.3L1160.4,632.2L1163.9,634.2L1167.4,636.1L1170.9,638.1L1174.4,640.1L1177.8,642.1L1181.3,644.1L1184.8,646.0L1188.3,648.0L1191.7,650.1L1195.2,652.1L1198.7,654.1L1202.1,656.1L1205.6,658.1L1209.0,660.2L1212.5,662.2L1215.9,664.2L1219.3,666.3L1222.8,668.4L1226.2,670.4L1229.6,672.5L1233.0,674.6L1236.5,676.6L1239.9,678.7L1243.3,680.8L1246.7,682.9L1250.1,685.0L1253.5,687.1L1256.9,689.2L1260.3,691.3L1263.7,693.4L1267.0,695.6L1270.4,697.7L1273.8,699.8L1277.2,702.0L1280.5,704.1L1283.9,706.3L1287.2,708.4L1290.6,710.6L1293.9,712.7L1297.3,714.9L1300.6,717.1L1304.0,719.3L1307.3,721.4L1310.6,723.6L1314.0,725.8L1317.3,728.0L1320.7,730.1L1324.0,732.3L1327.3,734.5L1330.7,736.6L1334.1,738.8L1337.4,741.0L1340.8,743.1L1344.2,745.2L1347.5,747.4L1350.9,749.5L1354.3,751.6L1357.8,753.7L1361.2,755.7L1364.6,757.8L1368.1,759.8L1371.6,761.9L1375.0,763.9L1378.5,765.9L1382.1,767.8L1385.6,769.8L1389.2,771.7L1392.7,773.6L1396.3,775.5L1399.9,777.4L1403.6,779.2L1407.2,781.0L1410.9,782.8L1414.6,784.6L1418.4,786.3L1422.1,788.0L1425.9,789.6L1429.7,791.2L1433.5,792.8L1437.3,794.3L1441.2,795.8L1445.0,797.2L1448.9,798.6L1452.8,799.9L1456.7,801.2L1460.6,802.4L1464.5,803.5L1468.4,804.6L1472.4,805.6L1476.3,806.5L1480.2,807.3L1484.1,808.1L1488.1,808.8L1492.0,809.4L1495.9,809.9L1499.8,810.3L1503.8,810.7L1507.7,810.9L1511.6,811.0L1515.5,811.1L1519.3,811.0L1523.2,810.8L1527.1,810.6L1530.9,810.2L1534.7,809.6L1538.5,809.0L1542.3,808.3L1546.1,807.4L1549.9,806.5L1553.6,805.4L1557.3,804.2L1561.0,802.9L1564.7,801.6L1568.3,800.1L1571.9,798.5L1575.5,796.9L1579.1,795.1L1582.6,793.3L1586.1,791.4L1589.6,789.4L1593.1,787.4L1596.5,785.2L1599.9,783.0L1603.2,780.7L1606.6,778.4L1609.9,776.0L1613.1,773.5L1616.3,771.0L1619.5,768.4L1622.6,765.8L1625.7,763.1L1628.8,760.3L1631.8,757.6L1634.8,754.7L1637.8,751.9L1640.7,749.0L1643.5,746.1L1646.3,743.1L1649.1,740.1L1651.8,737.1L1654.5,734.0L1657.1,731.0L1659.7,727.9L1662.2,724.8L1664.7,721.6L1667.2,718.5L1669.6,715.3L1672.0,712.1L1674.3,708.8L1676.6,705.6L1678.9,702.3L1681.1,699.0L1683.3,695.7L1685.5,692.4L1687.6,689.1L1689.8,685.7L1691.8,682.3L1693.9,678.9L1695.9,675.5L1697.9,672.1L1699.9,668.7L1701.9,665.2L1703.8,661.7L1705.7,658.3L1707.6,654.8L1709.5,651.3L1711.3,647.7L1713.1,644.2L1715.0,640.7L1716.8,637.1L1718.5,633.6L1720.3,630.0L1722.1,626.4L1723.9,622.8L1725.6,619.3L1727.4,615.7L1729.2,612.1L1731.0,608.4L1732.8,604.8L1734.7,601.2L1736.5,597.6L1738.5,594.0L1740.4,590.3L1742.5,586.7L1744.5,583.1L1746.7,579.4L1748.8,575.8L1751.1,572.2L1753.4,568.6L1755.8,565.0L1758.3,561.5L1760.8,558.1L1763.4,554.8L1766.1,551.6L1768.9,548.6L1771.7,545.8L1774.6,543.1L1777.6,540.7L1780.6,538.6L1783.7,536.7L1786.9,535.1L1790.2,533.8L1793.5,532.8L1797.0,532.2L1800.5,531.9L1804.0,531.9L1807.6,532.3L1811.1,532.9L1814.7,533.8L1818.3,535.0L1821.8,536.4L1825.3,538.1L1828.7,539.9L1832.0,542.0L1835.3,544.3L1838.4,546.7L1841.4,549.3L1844.3,552.1L1847.1,555.0L1849.6,558.0L1852.0,561.1L1854.3,564.3L1856.4,567.6L1858.4,571.0L1860.3,574.5L1862.0,578.1L1863.7,581.7L1865.3,585.4L1866.8,589.1L1868.2,592.9L1869.6,596.7L1870.9,600.5L1872.2,604.4L1873.4,608.3L1874.6,612.2L1875.8,616.1L1877.0,620.0L1878.2,623.9L1879.4,627.8L1880.5,631.7L1881.7,635.6L1882.8,639.5L1883.9,643.4L1885.0,647.3L1886.1,651.2L1887.2,655.1L1888.3,659.0L1889.3,662.9L1890.4,666.8L1891.4,670.7L1892.4,674.6L1893.4,678.5L1894.4,682.4L1895.4,686.4L1896.4,690.3L1897.4,694.2L1898.3,698.1L1899.3,702.0L1900.2,706.0L1901.1,709.9L1902.0,713.8L1902.9,717.7L1903.8,721.6L1904.7,725.6L1905.6,729.5L1906.5,733.4L1907.3,737.4L1908.1,741.3L1909.0,745.2L1909.8,749.1L1910.6,753.1L1911.4,757.0L1912.2,760.9L1913.0,764.9L1913.8,768.8L1914.6,772.8L1915.3,776.7L1916.1,780.6L1916.8,784.6L1917.5,788.5L1918.3,792.5L1919.0,796.4L1919.7,800.4L1920.4,804.3L1921.1,808.2L1921.8,812.2L1922.5,816.1L1923.1,820.1L1923.8,824.0L1924.5,828.0L1925.1,831.9L1925.8,835.9L1926.4,839.8L1927.0,843.8L1927.6,847.8L1928.3,851.7L1928.9,855.7L1929.5,859.6L1930.1,863.6L1930.7,867.5L1931.2,871.5L1931.8,875.5L1932.4,879.4L1933.0,883.4L1933.5,887.3L1934.1,891.3L1934.6,895.3L1935.2,899.2L1935.7,903.2L1936.3,907.2L1936.8,911.1L1937.3,915.1L1937.8,919.1L1938.4,923.0L1938.9,927.0L1939.4,931.0L1939.9,935.0L1940.4,938.9L1940.9,942.9L1941.4,946.9L1941.8,950.8L1942.3,954.8L1942.8,958.8L1943.3,962.8L1943.8,966.7L1944.2,970.7L1944.7,974.7L1945.2,978.7L1945.6,982.7L1946.1,986.6L1946.5,990.6L1947.0,994.6L1947.4,998.6L1947.9,1002.5L1948.3,1006.5L1948.8,1010.5L1949.2,1014.5L1949.6,1018.5L1950.1,1022.5L1950.5,1026.4L1950.9,1030.4L1951.4,1034.4L1951.8,1038.4L1952.2,1042.4L1952.7,1046.4L1953.1,1050.3L1953.5,1054.3L1953.9,1058.3L1954.4,1062.3L1954.8,1066.3L1955.2,1070.3L1955.6,1074.3L1956.1,1078.3L1956.5,1082.2L1956.9,1086.2L1957.3,1090.2L1957.7,1094.2L1958.2,1098.2L1958.6,1102.2L1959.0,1106.2L1959.4,1110.2L1959.9,1114.2L1960.3,1118.2L1960.7,1122.2L1961.1,1126.1L1961.6,1130.1L1962.0,1134.1L1962.4,1138.1L1962.8,1142.1L1963.3,1146.1L1963.7,1150.1L1964.2,1154.1L1964.6,1158.1L1965.0,1162.1L1965.5,1166.1L1965.9,1170.1L1966.4,1174.1L1966.9,1178.0L1967.3,1182.0L1967.8,1186.0L1968.3,1190.0L1968.8,1194.0L1969.2,1198.0L1969.7,1202.0L1970.2,1206.0L1970.7,1209.9L1971.3,1213.9L1971.8,1217.9L1972.3,1221.9L1972.9,1225.9L1973.4,1229.8L1974.0,1233.8L1974.5,1237.8L1975.1,1241.8L1975.7,1245.7L1976.3,1249.7L1976.9,1253.7L1977.5,1257.6L1978.2,1261.6L1978.8,1265.6L1979.5,1269.5L1980.1,1273.5L1980.8,1277.4L1981.5,1281.4L1982.2,1285.3L1982.9,1289.3L1983.7,1293.2L1984.4,1297.2L1985.2,1301.1L1986.0,1305.0L1986.8,1309.0L1987.6,1312.9L1988.4,1316.8L1989.2,1320.8L1990.1,1324.7L1991.0,1328.6L1991.9,1332.5L1992.8,1336.4L1993.7,1340.3L1994.6,1344.2L1995.6,1348.1L1996.6,1352.0L1997.6,1355.9L1998.6,1359.8L1999.7,1363.7L2000.7,1367.6L2001.8,1371.5L2002.9,1375.3L2004.0,1379.2L2005.2,1383.1L2006.4,1386.9L2007.5,1390.8L2008.8,1394.6L2010.0,1398.5L2011.3,1402.3L2012.6,1406.1L2013.9,1409.9L2015.3,1413.7L2016.8,1417.4L2018.3,1421.1L2020.0,1424.7L2021.7,1428.2L2023.5,1431.7L2025.4,1435.2L2027.4,1438.5L2029.5,1441.8L2031.7,1444.9L2034.1,1448.0L2036.6,1451.0L2039.3,1453.8L2042.1,1456.6L2045.1,1459.2L2048.1,1461.7L2051.3,1464.1L2054.6,1466.4L2058.0,1468.6L2061.5,1470.6L2065.0,1472.6L2068.7,1474.4L2072.4,1476.2L2076.1,1477.8L2079.9,1479.3L2083.8,1480.8L2087.7,1482.1L2091.6,1483.3L2095.5,1484.3L2099.4,1485.3L2103.4,1486.2L2107.3,1487.0L2111.3,1487.8L2115.3,1488.4L2119.3,1489.0L2123.3,1489.6L2127.3,1490.0L2131.3,1490.5L2135.3,1490.8L2139.3,1491.2L2143.3,1491.5L2147.3,1491.8L2151.3,1492.1L2155.3,1492.4L2159.3,1492.7L2163.3,1493.0L2167.3,1493.3L2171.2,1493.6L2175.2,1493.9L2179.2,1494.3L2183.2,1494.6L2187.1,1494.9L2191.1,1495.3L2195.1,1495.6L2199.0,1496.0L2203.0,1496.4L2207.0,1496.8L2211.0,1497.3L2215.0,1497.7L2219.0,1498.2" stroke="#ff0000" stroke-width="5.5" fill="none" stroke-linejoin="round" stroke-linecap="round"/>
<path d="M1692.4,884.0L1694.3,880.3L1696.1,876.6L1698.0,872.9L1699.8,869.1L1701.6,865.4L1703.3,861.6L1705.1,857.9L1706.8,854.1L1708.5,850.4L1710.2,846.6L1711.9,842.9L1713.6,839.1L1715.2,835.4L1716.9,831.7L1718.5,828.0L1720.1,824.3L1721.7,820.7L1723.3,817.0L1724.9,813.4L1726.5,809.8L1728.1,806.2L1729.6,802.7L1731.2,799.2L1732.7,795.7L1734.3,792.2L1735.8,788.7L1737.4,785.3L1738.9,781.8L1740.4,778.3L1741.9,774.8L1743.4,771.3L1744.9,767.8L1746.3,764.2L1747.8,760.6L1749.2,757.0L1750.7,753.3L1752.1,749.5L1753.5,745.8L1755.0,742.0L1756.5,738.2L1758.0,734.4L1759.5,730.6L1761.1,726.8L1762.7,723.0L1764.4,719.3L1766.2,715.5L1768.0,711.8L1769.9,708.2L1771.9,704.5L1774.0,701.0L1776.1,697.4L1778.4,694.0L1780.8,690.6L1783.3,687.3L1786.0,684.1L1788.8,681.0L1791.7,677.9L1794.7,675.0L1797.9,672.3L1801.1,669.7L1804.4,667.4L1807.8,665.3L1811.3,663.5L1814.7,662.0L1818.2,660.9L1821.7,660.1L1825.1,659.7L1828.5,659.8L1831.9,660.3L1835.2,661.2L1838.4,662.5L1841.6,664.2L1844.7,666.2L1847.7,668.5L1850.7,671.0L1853.5,673.8L1856.3,676.8L1859.0,679.9L1861.6,683.1L1864.0,686.4L1866.4,689.7L1868.7,693.2L1870.8,696.6L1872.9,700.1L1874.9,703.6L1876.7,707.2L1878.5,710.8L1880.2,714.4L1881.9,718.1L1883.4,721.8L1884.9,725.6L1886.3,729.3L1887.7,733.1L1889.0,736.9L1890.2,740.8L1891.5,744.6L1892.6,748.5L1893.7,752.4L1894.8,756.3L1895.8,760.2L1896.9,764.1L1897.9,768.0L1898.8,771.9L1899.8,775.8L1900.7,779.8L1901.6,783.7L1902.6,787.6L1903.5,791.6L1904.3,795.5L1905.2,799.4L1906.1,803.3L1906.9,807.3L1907.8,811.2L1908.6,815.1L1909.4,819.1L1910.2,823.0L1911.0,826.9L1911.8,830.9L1912.6,834.8L1913.3,838.8L1914.1,842.7L1914.8,846.6L1915.5,850.6L1916.2,854.5L1917.0,858.5L1917.6,862.4L1918.3,866.3L1919.0,870.3L1919.7,874.2L1920.3,878.2L1921.0,882.1L1921.6,886.1L1922.2,890.0L1922.9,894.0L1923.5,897.9L1924.1,901.9L1924.7,905.8L1925.3,909.8L1925.8,913.8L1926.4,917.7L1927.0,921.7L1927.5,925.6L1928.1,929.6L1928.6,933.6L1929.1,937.5L1929.7,941.5L1930.2,945.5L1930.7,949.4L1931.2,953.4L1931.7,957.4L1932.2,961.3L1932.7,965.3L1933.2,969.3L1933.6,973.3L1934.1,977.3L1934.6,981.2L1935.0,985.2L1935.5,989.2L1935.9,993.2L1936.4,997.2L1936.8,1001.1L1937.2,1005.1L1937.7,1009.1L1938.1,1013.1L1938.5,1017.1L1938.9,1021.1L1939.3,1025.1L1939.7,1029.1L1940.1,1033.1L1940.5,1037.1L1940.9,1041.1L1941.3,1045.1L1941.7,1049.0L1942.1,1053.0L1942.4,1057.0L1942.8,1061.0L1943.2,1065.0L1943.6,1069.0L1943.9,1073.0L1944.3,1077.0L1944.7,1081.0L1945.0,1085.0L1945.4,1089.0L1945.7,1093.0L1946.1,1097.0L1946.4,1101.0L1946.8,1105.0L1947.1,1109.1L1947.5,1113.1L1947.8,1117.1L1948.2,1121.1L1948.5,1125.1L1948.8,1129.1L1949.2,1133.1L1949.5,1137.1L1949.9,1141.1L1950.2,1145.1L1950.5,1149.1L1950.9,1153.1L1951.2,1157.1L1951.6,1161.1L1951.9,1165.1L1952.2,1169.1L1952.6,1173.1L1952.9,1177.1L1953.2,1181.1L1953.6,1185.1L1953.9,1189.1L1954.3,1193.1L1954.6,1197.1L1955.0,1201.1L1955.3,1205.1L1955.7,1209.1L1956.0,1213.1L1956.4,1217.1L1956.7,1221.1L1957.1,1225.1L1957.4,1229.1L1957.8,1233.1L1958.2,1237.1L1958.5,1241.1L1958.9,1245.0L1959.3,1249.0L1959.6,1253.0L1960.0,1257.0L1960.4,1261.0L1960.8,1265.0L1961.2,1269.0L1961.5,1272.9L1961.9,1276.9L1962.3,1280.9L1962.7,1284.9L1963.1,1288.9L1963.6,1292.8L1964.0,1296.8L1964.4,1300.8L1964.8,1304.8L1965.2,1308.7L1965.7,1312.7L1966.1,1316.7L1966.6,1320.7L1967.0,1324.6L1967.5,1328.6L1967.9,1332.5L1968.4,1336.5L1968.9,1340.5L1969.3,1344.4L1969.8,1348.4L1970.4,1352.3L1970.9,1356.3L1971.5,1360.2L1972.0,1364.2L1972.7,1368.1L1973.3,1372.1L1974.0,1376.0L1974.7,1379.9L1975.4,1383.8L1976.2,1387.8L1977.1,1391.7L1977.9,1395.6L1978.9,1399.5L1979.9,1403.4L1980.9,1407.3L1982.0,1411.2L1983.2,1415.1L1984.4,1418.9L1985.7,1422.8L1987.1,1426.7L1988.5,1430.5L1988.7,1437.9L1987.2,1434.1L1985.7,1430.3L1984.3,1426.4L1982.9,1422.5L1981.6,1418.6L1980.3,1414.7L1979.2,1410.8L1978.0,1406.9L1977.0,1403.0L1976.0,1399.1L1975.0,1395.2L1974.1,1391.3L1973.2,1387.3L1972.4,1383.4L1971.6,1379.5L1970.8,1375.5L1970.1,1371.6L1969.4,1367.7L1968.8,1363.7L1968.2,1359.8L1967.6,1355.9L1967.0,1351.9L1966.5,1348.0L1966.0,1344.0L1965.5,1340.1L1965.0,1336.1L1964.5,1332.2L1964.0,1328.2L1963.6,1324.3L1963.1,1320.3L1962.7,1316.3L1962.3,1312.4L1961.8,1308.4L1961.4,1304.4L1961.0,1300.5L1960.6,1296.5L1960.2,1292.5L1959.7,1288.6L1959.3,1284.6L1958.9,1280.6L1958.5,1276.6L1958.1,1272.7L1957.7,1268.7L1957.3,1264.7L1957.0,1260.7L1956.6,1256.8L1956.2,1252.8L1955.8,1248.8L1955.4,1244.8L1955.0,1240.8L1954.7,1236.8L1954.3,1232.9L1953.9,1228.9L1953.6,1224.9L1953.2,1220.9L1952.8,1216.9L1952.5,1212.9L1952.1,1208.9L1951.7,1204.9L1951.4,1200.9L1951.0,1196.9L1950.6,1192.9L1950.3,1189.0L1949.9,1185.0L1949.6,1181.0L1949.2,1177.0L1948.9,1173.0L1948.5,1169.0L1948.2,1165.0L1947.8,1161.0L1947.4,1157.0L1947.1,1153.0L1946.7,1149.0L1946.4,1145.0L1946.0,1141.0L1945.7,1137.0L1945.3,1133.0L1945.0,1129.0L1944.6,1125.0L1944.2,1121.0L1943.9,1117.0L1943.5,1113.0L1943.2,1109.0L1942.8,1105.0L1942.4,1101.0L1942.1,1097.0L1941.7,1093.0L1941.3,1089.0L1940.9,1085.0L1940.6,1081.0L1940.2,1077.0L1939.8,1073.0L1939.4,1069.0L1939.0,1065.0L1938.7,1061.0L1938.3,1057.0L1937.9,1053.0L1937.5,1049.0L1937.1,1045.1L1936.7,1041.1L1936.3,1037.1L1935.9,1033.1L1935.5,1029.1L1935.0,1025.1L1934.6,1021.1L1934.2,1017.1L1933.8,1013.1L1933.3,1009.1L1932.9,1005.2L1932.5,1001.2L1932.0,997.2L1931.6,993.2L1931.1,989.2L1930.7,985.2L1930.2,981.3L1929.7,977.3L1929.3,973.3L1928.8,969.3L1928.3,965.4L1927.8,961.4L1927.3,957.4L1926.8,953.4L1926.3,949.5L1925.8,945.5L1925.3,941.5L1924.8,937.6L1924.3,933.6L1923.7,929.6L1923.2,925.7L1922.6,921.7L1922.1,917.8L1921.5,913.8L1921.0,909.9L1920.4,905.9L1919.8,901.9L1919.2,898.0L1918.6,894.1L1918.0,890.1L1917.4,886.2L1916.8,882.2L1916.1,878.3L1915.5,874.3L1914.8,870.4L1914.1,866.5L1913.5,862.5L1912.8,858.6L1912.1,854.7L1911.3,850.7L1910.6,846.8L1909.9,842.9L1909.1,839.0L1908.3,835.0L1907.5,831.1L1906.7,827.2L1905.9,823.3L1905.1,819.4L1904.2,815.4L1903.3,811.5L1902.5,807.6L1901.6,803.7L1900.6,799.8L1899.7,795.9L1898.7,792.0L1897.8,788.1L1896.8,784.2L1895.8,780.3L1894.7,776.4L1893.7,772.5L1892.6,768.6L1891.5,764.7L1890.4,760.8L1889.3,757.0L1888.1,753.1L1886.9,749.2L1885.7,745.3L1884.5,741.4L1883.3,737.6L1882.0,733.7L1880.7,729.8L1879.3,726.0L1877.9,722.1L1876.4,718.3L1874.9,714.6L1873.3,710.8L1871.5,707.2L1869.7,703.5L1867.7,700.0L1865.6,696.5L1863.4,693.0L1861.0,689.7L1858.5,686.4L1855.9,683.3L1853.2,680.4L1850.3,677.7L1847.4,675.3L1844.3,673.1L1841.2,671.2L1838.1,669.7L1834.9,668.5L1831.6,667.7L1828.3,667.4L1825.0,667.6L1821.7,668.1L1818.4,669.1L1815.1,670.5L1811.8,672.2L1808.6,674.2L1805.5,676.5L1802.5,679.1L1799.5,681.9L1796.7,684.8L1793.9,688.0L1791.3,691.2L1788.9,694.6L1786.6,698.0L1784.4,701.5L1782.3,705.1L1780.4,708.7L1778.5,712.4L1776.7,716.2L1774.9,719.9L1773.3,723.7L1771.6,727.5L1770.0,731.3L1768.4,735.1L1766.8,738.9L1765.3,742.7L1763.7,746.4L1762.1,750.2L1760.6,753.9L1759.0,757.6L1757.4,761.3L1755.9,765.0L1754.3,768.7L1752.8,772.3L1751.2,776.0L1749.6,779.6L1748.1,783.3L1746.5,786.9L1745.0,790.5L1743.4,794.1L1741.8,797.7L1740.3,801.3L1738.7,804.9L1737.1,808.5L1735.5,812.1L1733.9,815.7L1732.3,819.2L1730.7,822.8L1729.1,826.3L1727.4,829.9L1725.8,833.5L1724.2,837.0L1722.5,840.6L1720.8,844.1L1719.2,847.6L1717.5,851.2L1715.8,854.7L1714.0,858.3L1712.3,861.8L1710.6,865.4L1708.8,868.9L1707.0,872.5L1705.2,876.1L1703.4,879.6L1701.6,883.2Z" fill="#008000"/>
<path d="M401.9,1496.1L405.8,1495.9L409.7,1495.7L413.5,1495.6L417.4,1495.4L421.3,1495.2L425.2,1495.1L429.2,1494.9L433.1,1494.7L437.0,1494.6L441.0,1494.4L444.9,1494.3L448.9,1494.1L452.8,1494.0L456.8,1493.8L460.8,1493.7L464.7,1493.5L468.7,1493.3L472.7,1493.2L476.7,1493.0L480.7,1492.8L484.7,1492.7L488.7,1492.5L492.7,1492.3L496.7,1492.1L500.7,1491.9L504.8,1491.7L508.8,1491.5L512.8,1491.3L516.8,1491.1L520.9,1490.9L524.9,1490.6L528.9,1490.4L533.0,1490.1L537.0,1489.9L541.1,1489.6L545.1,1489.3L549.1,1489.0L553.2,1488.7L557.2,1488.4L561.2,1488.1L565.3,1487.7L569.3,1487.4L573.3,1487.0L577.4,1486.6L581.4,1486.2L585.4,1485.8L589.5,1485.4L593.5,1484.9L597.5,1484.4L601.5,1484.0L605.5,1483.5L609.5,1483.0L613.6,1482.4L617.6,1481.9L621.6,1481.3L625.5,1480.7L629.5,1480.1L633.5,1479.5L637.5,1478.8L641.5,1478.1L645.4,1477.4L649.4,1476.7L653.3,1476.0L657.3,1475.2L661.2,1474.4L665.2,1473.6L669.1,1472.7L673.0,1471.9L676.9,1471.0L680.8,1470.1L684.7,1469.1L688.6,1468.2L692.5,1467.2L696.3,1466.1L700.2,1465.1L704.0,1464.0L707.8,1462.9L711.7,1461.7L715.5,1460.6L719.3,1459.4L723.1,1458.1L726.9,1456.9L730.6,1455.6L734.4,1454.3L738.1,1453.0L741.9,1451.6L745.6,1450.2L749.3,1448.8L753.0,1447.3L756.7,1445.8L760.4,1444.3L764.1,1442.8L767.7,1441.2L771.4,1439.6L775.0,1438.0L778.6,1436.4L782.3,1434.7L785.9,1433.0L789.4,1431.3L793.0,1429.6L796.6,1427.8L800.1,1426.0L803.7,1424.2L807.2,1422.3L810.7,1420.5L814.2,1418.6L817.7,1416.7L821.2,1414.7L824.6,1412.8L828.1,1410.8L831.5,1408.7L834.9,1406.7L838.3,1404.6L841.7,1402.5L845.1,1400.4L848.5,1398.3L851.8,1396.1L855.2,1394.0L858.5,1391.7L861.8,1389.5L865.1,1387.3L868.4,1385.0L871.6,1382.7L874.9,1380.4L878.1,1378.0L881.3,1375.7L884.6,1373.3L887.7,1370.9L890.9,1368.5L894.1,1366.0L897.2,1363.6L900.4,1361.1L903.5,1358.6L906.6,1356.0L909.7,1353.5L912.7,1350.9L915.8,1348.3L918.8,1345.7L921.9,1343.1L924.9,1340.4L927.8,1337.7L930.8,1335.0L933.8,1332.3L936.7,1329.6L939.6,1326.8L942.6,1324.1L945.4,1321.3L948.3,1318.5L951.2,1315.7L954.0,1312.8L956.9,1310.0L959.7,1307.1L962.5,1304.2L965.3,1301.4L968.1,1298.5L970.9,1295.5L973.6,1292.6L976.4,1289.7L979.2,1286.8L981.9,1283.8L984.7,1280.9L987.4,1278.0L990.2,1275.0L992.9,1272.1L995.7,1269.1L998.4,1266.2L1001.1,1263.3L1003.9,1260.3L1006.6,1257.4L1009.4,1254.5L1012.1,1251.5L1014.9,1248.6L1017.7,1245.7L1020.4,1242.8L1023.2,1239.9L1026.0,1237.0L1028.8,1234.2L1031.6,1231.3L1034.4,1228.5L1037.2,1225.7L1040.1,1222.8L1042.9,1220.1L1045.8,1217.3L1048.7,1214.5L1051.6,1211.8L1054.5,1209.1L1057.4,1206.4L1060.3,1203.7L1063.3,1201.1L1066.3,1198.5L1069.3,1195.9L1072.3,1193.3L1075.4,1190.8L1078.5,1188.3L1081.6,1185.8L1084.7,1183.4L1087.9,1181.0L1091.0,1178.6L1094.2,1176.3L1097.5,1174.0L1100.7,1171.7L1104.0,1169.5L1107.4,1167.3L1110.7,1165.1L1114.1,1163.0L1117.5,1160.9L1121.0,1158.9L1124.5,1156.9L1128.0,1155.0L1131.5,1153.1L1135.1,1151.2L1138.7,1149.4L1142.4,1147.6L1146.0,1145.8L1149.7,1144.1L1153.4,1142.4L1157.2,1140.8L1160.9,1139.1L1164.7,1137.5L1168.4,1136.0L1172.2,1134.4L1176.1,1132.9L1179.9,1131.4L1183.7,1130.0L1187.6,1128.5L1191.4,1127.1L1195.3,1125.7L1199.1,1124.4L1203.0,1123.0L1206.9,1121.7L1210.8,1120.4L1214.6,1119.1L1218.5,1117.8L1222.4,1116.6L1226.2,1115.3L1230.1,1114.1L1234.0,1112.8L1237.8,1111.6L1241.7,1110.4L1245.5,1109.2L1249.3,1108.0L1253.1,1106.8L1256.9,1105.7L1260.7,1104.5L1264.5,1103.3L1268.2,1102.2L1272.0,1101.1L1275.7,1099.9L1279.5,1098.8L1283.2,1097.8L1287.0,1096.7L1290.7,1095.6L1294.5,1094.6L1298.2,1093.6L1302.0,1092.6L1305.7,1091.6L1309.5,1090.7L1313.2,1089.8L1317.0,1088.9L1320.8,1088.0L1324.6,1087.2L1328.4,1086.4L1332.3,1085.6L1336.1,1084.9L1340.0,1084.2L1343.9,1083.6L1347.8,1082.9L1351.7,1082.4L1355.7,1081.8L1359.6,1081.3L1363.6,1080.8L1367.6,1080.4L1371.7,1080.0L1375.7,1079.6L1379.7,1079.2L1383.8,1078.8L1387.9,1078.5L1392.0,1078.2L1396.1,1077.9L1400.2,1077.6L1404.3,1077.4L1408.4,1077.1L1412.5,1076.8L1416.7,1076.6L1420.8,1076.3L1424.9,1076.1L1429.1,1075.9L1433.2,1075.6L1437.3,1075.3L1441.5,1075.1L1445.6,1074.8L1449.7,1074.5L1453.8,1074.2L1457.9,1073.9L1462.0,1073.5L1466.1,1073.2L1470.2,1072.8L1474.3,1072.4L1478.3,1071.9L1482.4,1071.4L1486.4,1070.9L1490.4,1070.4L1494.4,1069.8L1498.4,1069.2L1502.3,1068.5L1506.2,1067.8L1510.1,1067.1L1514.0,1066.3L1517.9,1065.4L1521.7,1064.5L1525.5,1063.6L1529.3,1062.6L1533.0,1061.5L1536.8,1060.4L1540.5,1059.2L1544.1,1057.9L1547.7,1056.6L1551.3,1055.2L1554.9,1053.7L1558.4,1052.2L1561.9,1050.5L1565.3,1048.8L1568.7,1047.1L1572.0,1045.2L1575.4,1043.3L1578.6,1041.3L1581.9,1039.2L1585.1,1037.0L1588.2,1034.8L1591.4,1032.5L1594.4,1030.1L1597.5,1027.7L1600.5,1025.2L1603.5,1022.7L1606.4,1020.1L1609.3,1017.4L1612.2,1014.7L1615.1,1011.9L1617.9,1009.1L1620.6,1006.2L1623.4,1003.3L1626.1,1000.3L1628.8,997.3L1631.4,994.2L1634.0,991.1L1636.6,987.9L1639.1,984.7L1641.7,981.5L1644.1,978.3L1646.6,975.0L1649.0,971.6L1651.4,968.3L1653.8,964.9L1656.2,961.5L1658.5,958.0L1660.8,954.6L1663.0,951.1L1665.3,947.6L1667.5,944.1L1669.7,940.5L1671.9,937.0L1674.0,933.4L1676.1,929.9L1678.2,926.3L1680.3,922.7L1682.3,919.1L1684.3,915.5L1686.3,911.9L1688.3,908.3L1690.3,904.7L1692.2,901.1L1694.1,897.5L1696.0,893.9L1697.9,890.3L1699.8,886.8L1701.6,883.2L1703.4,879.6L1705.2,876.1L1707.0,872.5L1708.8,868.9L1710.6,865.4L1712.3,861.8L1714.0,858.3L1715.8,854.7L1717.5,851.2L1719.2,847.6L1720.8,844.1L1722.5,840.6L1724.2,837.0L1725.8,833.5L1727.4,829.9L1729.1,826.3L1730.7,822.8L1732.3,819.2L1733.9,815.7L1735.5,812.1L1737.1,808.5L1738.7,804.9L1740.3,801.3L1741.8,797.7L1743.4,794.1L1745.0,790.5L1746.5,786.9L1748.1,783.3L1749.6,779.6L1751.2,776.0L1752.8,772.3L1754.3,768.7L1755.9,765.0L1757.4,761.3L1759.0,757.6L1760.6,753.9L1762.1,750.2L1763.7,746.4L1765.3,742.7L1766.8,738.9L1768.4,735.1L1770.0,731.3L1771.6,727.5L1773.3,723.7L1774.9,719.9L1776.7,716.2L1778.5,712.4L1780.4,708.7L1782.3,705.1L1784.4,701.5L1786.6,698.0L1788.9,694.6L1791.3,691.2L1793.9,688.0L1796.7,684.8L1799.5,681.9L1802.5,679.1L1805.5,676.5L1808.6,674.2L1811.8,672.2L1815.1,670.5L1818.4,669.1L1821.7,668.1L1825.0,667.6L1828.3,667.4L1831.6,667.7L1834.9,668.5L1838.1,669.7L1841.2,671.2L1844.3,673.1L1847.4,675.3L1850.3,677.7L1853.2,680.4L1855.9,683.3L1858.5,686.4L1861.0,689.7L1863.4,693.0L1865.6,696.5L1867.7,700.0L1869.7,703.5L1871.5,707.2L1873.3,710.8L1874.9,714.6L1876.4,718.3L1877.9,722.1L1879.3,726.0L1880.7,729.8L1882.0,733.7L1883.3,737.6L1884.5,741.4L1885.7,745.3L1886.9,749.2L1888.1,753.1L1889.3,757.0L1890.4,760.8L1891.5,764.7L1892.6,768.6L1893.7,772.5L1894.7,776.4L1895.8,780.3L1896.8,784.2L1897.8,788.1L1898.7,792.0L1899.7,795.9L1900.6,799.8L1901.6,803.7L1902.5,807.6L1903.3,811.5L1904.2,815.4L1905.1,819.4L1905.9,823.3L1906.7,827.2L1907.5,831.1L1908.3,835.0L1909.1,839.0L1909.9,842.9L1910.6,846.8L1911.3,850.7L1912.1,854.7L1912.8,858.6L1913.5,862.5L1914.1,866.5L1914.8,870.4L1915.5,874.3L1916.1,878.3L1916.8,882.2L1917.4,886.2L1918.0,890.1L1918.6,894.1L1919.2,898.0L1919.8,901.9L1920.4,905.9L1921.0,909.9L1921.5,913.8L1922.1,917.8L1922.6,921.7L1923.2,925.7L1923.7,929.6L1924.3,933.6L1924.8,937.6L1925.3,941.5L1925.8,945.5L1926.3,949.5L1926.8,953.4L1927.3,957.4L1927.8,961.4L1928.3,965.4L1928.8,969.3L1929.3,973.3L1929.7,977.3L1930.2,981.3L1930.7,985.2L1931.1,989.2L1931.6,993.2L1932.0,997.2L1932.5,1001.2L1932.9,1005.2L1933.3,1009.1L1933.8,1013.1L1934.2,1017.1L1934.6,1021.1L1935.0,1025.1L1935.5,1029.1L1935.9,1033.1L1936.3,1037.1L1936.7,1041.1L1937.1,1045.1L1937.5,1049.0L1937.9,1053.0L1938.3,1057.0L1938.7,1061.0L1939.0,1065.0L1939.4,1069.0L1939.8,1073.0L1940.2,1077.0L1940.6,1081.0L1940.9,1085.0L1941.3,1089.0L1941.7,1093.0L1942.1,1097.0L1942.4,1101.0L1942.8,1105.0L1943.2,1109.0L1943.5,1113.0L1943.9,1117.0L1944.2,1121.0L1944.6,1125.0L1945.0,1129.0L1945.3,1133.0L1945.7,1137.0L1946.0,1141.0L1946.4,1145.0L1946.7,1149.0L1947.1,1153.0L1947.4,1157.0L1947.8,1161.0L1948.2,1165.0L1948.5,1169.0L1948.9,1173.0L1949.2,1177.0L1949.6,1181.0L1949.9,1185.0L1950.3,1189.0L1950.6,1192.9L1951.0,1196.9L1951.4,1200.9L1951.7,1204.9L1952.1,1208.9L1952.5,1212.9L1952.8,1216.9L1953.2,1220.9L1953.6,1224.9L1953.9,1228.9L1954.3,1232.9L1954.7,1236.8L1955.0,1240.8L1955.4,1244.8L1955.8,1248.8L1956.2,1252.8L1956.6,1256.8L1957.0,1260.7L1957.3,1264.7L1957.7,1268.7L1958.1,1272.7L1958.5,1276.6L1958.9,1280.6L1959.3,1284.6L1959.7,1288.6L1960.2,1292.5L1960.6,1296.5L1961.0,1300.5L1961.4,1304.4L1961.8,1308.4L1962.3,1312.4L1962.7,1316.3L1963.1,1320.3L1963.6,1324.3L1964.0,1328.2L1964.5,1332.2L1965.0,1336.1L1965.5,1340.1L1966.0,1344.0L1966.5,1348.0L1967.0,1351.9L1967.6,1355.9L1968.2,1359.8L1968.8,1363.7L1969.4,1367.7L1970.1,1371.6L1970.8,1375.5L1971.6,1379.5L1972.4,1383.4L1973.2,1387.3L1974.1,1391.3L1975.0,1395.2L1976.0,1399.1L1977.0,1403.0L1978.0,1406.9L1979.2,1410.8L1980.3,1414.7L1981.6,1418.6L1982.9,1422.5L1984.3,1426.4L1985.7,1430.3L1987.2,1434.1L1988.7,1437.9L1990.4,1441.6L1992.1,1445.4L1993.9,1449.0L1995.7,1452.7L1997.7,1456.2L1999.7,1459.7L2001.8,1463.1L2004.0,1466.5L2006.2,1469.8L2008.6,1472.9L2011.0,1476.0L2013.6,1479.0L2016.2,1481.9L2019.0,1484.7L2021.8,1487.4L2024.7,1490.0L2027.8,1492.4L2030.9,1494.7L2034.1,1496.9L2037.5,1498.9L2040.9,1500.8L2044.4,1502.6L2048.0,1504.2L2051.7,1505.8L2055.4,1507.1L2059.2,1508.4L2063.1,1509.5L2066.9,1510.5L2070.9,1511.4L2074.8,1512.2L2078.8,1512.8L2082.8,1513.3L2086.8,1513.8L2090.8,1514.1L2094.8,1514.4L2098.9,1514.6L2102.9,1514.7L2107.0,1514.9L2111.0,1514.9L2115.1,1515.0L2119.1,1515.1L2123.2,1515.2L2127.2,1515.3L2131.2,1515.4L2135.2,1515.6L2139.2,1515.8L2143.2,1515.9L2147.2,1516.1L2151.2,1516.3L2155.2,1516.5L2159.2,1516.7L2163.1,1516.9L2167.1,1517.1L2171.1,1517.4L2175.1,1517.6L2179.1,1517.7L2183.0,1517.9L2187.0,1518.1L2191.0,1518.2L2195.0,1518.4L2199.0,1518.5L2203.1,1518.6L2207.1,1518.7L2211.1,1518.7L2215.2,1518.7L2219.2,1518.7" stroke="#008000" stroke-width="6.5" fill="none" stroke-linejoin="round" stroke-linecap="round"/>
<path d="M401.1,749.2L405.1,749.2L409.2,749.3L413.2,749.3L417.2,749.4L421.2,749.5L425.2,749.6L429.2,749.7L433.2,749.8L437.2,749.9L441.3,750.0L445.3,750.1L449.3,750.3L453.3,750.4L457.3,750.6L461.3,750.7L465.3,750.9L469.3,751.1L473.3,751.3L477.3,751.5L481.4,751.7L485.4,751.9L489.4,752.1L493.4,752.4L497.4,752.6L501.4,752.9L505.4,753.1L509.4,753.4L513.4,753.7L517.4,753.9L521.4,754.2L525.4,754.5L529.4,754.8L533.4,755.2L537.4,755.5L541.4,755.8L545.4,756.2L549.4,756.5L553.4,756.9L557.4,757.2L561.4,757.6L565.4,758.0L569.3,758.4L573.3,758.8L577.3,759.2L581.3,759.6L585.3,760.0L589.3,760.5L593.3,760.9L597.3,761.4L601.2,761.8L605.2,762.3L609.2,762.8L613.2,763.2L617.2,763.7L621.2,764.2L625.1,764.7L629.1,765.2L633.1,765.7L637.1,766.3L641.0,766.8L645.0,767.3L649.0,767.9L653.0,768.4L656.9,769.0L660.9,769.6L664.9,770.1L668.9,770.7L672.8,771.3L676.8,771.9L680.8,772.5L684.7,773.1L688.7,773.7L692.6,774.4L696.6,775.0L700.6,775.6L704.5,776.3L708.5,777.0L712.4,777.6L716.4,778.3L720.4,779.0L724.3,779.6L728.3,780.3L732.2,781.0L736.2,781.7L740.1,782.4L744.1,783.2L748.0,783.9L752.0,784.6L755.9,785.3L759.8,786.1L763.8,786.8L767.7,787.6L771.7,788.4L775.6,789.1L779.5,789.9L783.5,790.7L787.4,791.5L791.3,792.3L795.3,793.1L799.2,793.9L803.1,794.7L807.1,795.5L811.0,796.4L814.9,797.2L818.8,798.0L822.8,798.9L826.7,799.7L830.6,800.6L834.5,801.5L838.4,802.3L842.3,803.2L846.3,804.1L850.2,805.0L854.1,805.9L858.0,806.8L861.9,807.7L865.8,808.6L869.7,809.5L873.6,810.4L877.5,811.4L881.4,812.3L885.3,813.2L889.2,814.2L893.1,815.1L897.0,816.1L900.9,817.1L904.8,818.0L908.7,819.0L912.6,820.0L916.4,821.0L920.3,822.0L924.2,823.0L928.1,824.0L932.0,825.0L935.8,826.0L939.7,827.0L943.6,828.0L947.5,829.1L951.3,830.1L955.2,831.1L959.1,832.2L962.9,833.2L966.8,834.3L970.7,835.3L974.5,836.4L978.4,837.5L982.2,838.6L986.1,839.6L990.0,840.7L993.8,841.8L997.7,842.9L1001.5,844.0L1005.4,845.1L1009.2,846.2L1013.0,847.3L1016.9,848.5L1020.7,849.6L1024.6,850.7L1028.4,851.8L1032.2,853.0L1036.1,854.1L1039.9,855.3L1043.7,856.4L1047.5,857.6L1051.4,858.7L1055.2,859.9L1059.0,861.1L1062.8,862.3L1066.6,863.4L1070.5,864.6L1074.3,865.8L1078.1,867.0L1081.9,868.2L1085.7,869.4L1089.5,870.6L1093.3,871.8L1097.1,873.1L1100.9,874.3L1104.7,875.5L1108.5,876.8L1112.3,878.0L1116.1,879.3L1119.9,880.5L1123.7,881.8L1127.5,883.0L1131.3,884.3L1135.1,885.6L1138.9,886.8L1142.7,888.1L1146.5,889.4L1150.2,890.7L1154.0,892.0L1157.8,893.3L1161.6,894.6L1165.4,895.9L1169.1,897.3L1172.9,898.6L1176.7,899.9L1180.5,901.2L1184.3,902.6L1188.0,903.9L1191.8,905.3L1195.6,906.6L1199.3,908.0L1203.1,909.4L1206.9,910.8L1210.6,912.1L1214.4,913.5L1218.2,914.9L1221.9,916.3L1225.7,917.7L1229.5,919.1L1233.2,920.5L1237.0,921.9L1240.7,923.4L1244.5,924.8L1248.3,926.2L1252.0,927.7L1255.8,929.1L1259.5,930.6L1263.3,932.0L1267.0,933.5L1270.8,935.0L1274.5,936.5L1278.3,937.9L1282.0,939.4L1285.8,940.9L1289.5,942.4L1293.3,943.9L1297.0,945.4L1300.8,947.0L1304.5,948.5L1308.3,950.0L1312.0,951.5L1315.8,953.1L1319.5,954.6L1323.3,956.2L1327.0,957.7L1330.7,959.3L1334.5,960.9L1338.2,962.5L1342.0,964.0L1345.7,965.6L1349.4,967.2L1353.2,968.8L1356.9,970.4L1360.7,972.0L1364.4,973.7L1368.1,975.3L1371.9,976.9L1375.6,978.5L1379.4,980.1L1383.1,981.7L1386.9,983.3L1390.6,984.8L1394.4,986.4L1398.1,987.9L1401.9,989.5L1405.6,991.0L1409.4,992.4L1413.2,993.9L1417.0,995.3L1420.7,996.7L1424.5,998.1L1428.3,999.4L1432.1,1000.7L1435.9,1001.9L1439.7,1003.2L1443.5,1004.3L1447.3,1005.5L1451.1,1006.5L1455.0,1007.6L1458.8,1008.6L1462.7,1009.5L1466.5,1010.4L1470.4,1011.2L1474.2,1011.9L1478.1,1012.6L1482.0,1013.3L1485.9,1013.9L1489.8,1014.4L1493.7,1014.8L1497.6,1015.2L1501.6,1015.4L1505.5,1015.7L1509.5,1015.8L1513.5,1015.8L1517.4,1015.8L1521.4,1015.7L1525.4,1015.5L1529.4,1015.2L1533.4,1014.9L1537.4,1014.4L1541.4,1013.9L1545.4,1013.3L1549.3,1012.6L1553.3,1011.8L1557.2,1010.9L1561.1,1010.0L1565.0,1008.9L1568.8,1007.8L1572.6,1006.6L1576.4,1005.3L1580.1,1003.9L1583.7,1002.4L1587.4,1000.8L1590.9,999.2L1594.4,997.4L1597.9,995.6L1601.3,993.7L1604.6,991.7L1607.9,989.6L1611.1,987.4L1614.3,985.2L1617.4,982.9L1620.5,980.5L1623.5,978.0L1626.4,975.5L1629.3,972.9L1632.2,970.2L1635.0,967.5L1637.8,964.7L1640.5,961.8L1643.2,958.9L1645.8,955.9L1648.4,952.9L1650.9,949.8L1653.4,946.7L1655.9,943.5L1658.3,940.3L1660.7,937.1L1663.1,933.7L1665.4,930.4L1667.6,927.0L1669.9,923.6L1672.1,920.1L1674.3,916.6L1676.4,913.1L1678.5,909.6L1680.6,906.0L1682.6,902.4L1684.6,898.7L1686.6,895.1L1688.6,891.4L1690.5,887.7L1692.4,884.0L1694.3,880.3L1696.1,876.6L1698.0,872.9L1699.8,869.1L1701.6,865.4L1703.3,861.6L1705.1,857.9L1706.8,854.1L1708.5,850.4L1710.2,846.6L1711.9,842.9L1713.6,839.1L1715.2,835.4L1716.9,831.7L1718.5,828.0L1720.1,824.3L1721.7,820.7L1723.3,817.0L1724.9,813.4L1726.5,809.8L1728.1,806.2L1729.6,802.7L1731.2,799.2L1732.7,795.7L1734.3,792.2L1735.8,788.7L1737.4,785.3L1738.9,781.8L1740.4,778.3L1741.9,774.8L1743.4,771.3L1744.9,767.8L1746.3,764.2L1747.8,760.6L1749.2,757.0L1750.7,753.3L1752.1,749.5L1753.5,745.8L1755.0,742.0L1756.5,738.2L1758.0,734.4L1759.5,730.6L1761.1,726.8L1762.7,723.0L1764.4,719.3L1766.2,715.5L1768.0,711.8L1769.9,708.2L1771.9,704.5L1774.0,701.0L1776.1,697.4L1778.4,694.0L1780.8,690.6L1783.3,687.3L1786.0,684.1L1788.8,681.0L1791.7,677.9L1794.7,675.0L1797.9,672.3L1801.1,669.7L1804.4,667.4L1807.8,665.3L1811.3,663.5L1814.7,662.0L1818.2,660.9L1821.7,660.1L1825.1,659.7L1828.5,659.8L1831.9,660.3L1835.2,661.2L1838.4,662.5L1841.6,664.2L1844.7,666.2L1847.7,668.5L1850.7,671.0L1853.5,673.8L1856.3,676.8L1859.0,679.9L1861.6,683.1L1864.0,686.4L1866.4,689.7L1868.7,693.2L1870.8,696.6L1872.9,700.1L1874.9,703.6L1876.7,707.2L1878.5,710.8L1880.2,714.4L1881.9,718.1L1883.4,721.8L1884.9,725.6L1886.3,729.3L1887.7,733.1L1889.0,736.9L1890.2,740.8L1891.5,744.6L1892.6,748.5L1893.7,752.4L1894.8,756.3L1895.8,760.2L1896.9,764.1L1897.9,768.0L1898.8,771.9L1899.8,775.8L1900.7,779.8L1901.6,783.7L1902.6,787.6L1903.5,791.6L1904.3,795.5L1905.2,799.4L1906.1,803.3L1906.9,807.3L1907.8,811.2L1908.6,815.1L1909.4,819.1L1910.2,823.0L1911.0,826.9L1911.8,830.9L1912.6,834.8L1913.3,838.8L1914.1,842.7L1914.8,846.6L1915.5,850.6L1916.2,854.5L1917.0,858.5L1917.6,862.4L1918.3,866.3L1919.0,870.3L1919.7,874.2L1920.3,878.2L1921.0,882.1L1921.6,886.1L1922.2,890.0L1922.9,894.0L1923.5,897.9L1924.1,901.9L1924.7,905.8L1925.3,909.8L1925.8,913.8L1926.4,917.7L1927.0,921.7L1927.5,925.6L1928.1,929.6L1928.6,933.6L1929.1,937.5L1929.7,941.5L1930.2,945.5L1930.7,949.4L1931.2,953.4L1931.7,957.4L1932.2,961.3L1932.7,965.3L1933.2,969.3L1933.6,973.3L1934.1,977.3L1934.6,981.2L1935.0,985.2L1935.5,989.2L1935.9,993.2L1936.4,997.2L1936.8,1001.1L1937.2,1005.1L1937.7,1009.1L1938.1,1013.1L1938.5,1017.1L1938.9,1021.1L1939.3,1025.1L1939.7,1029.1L1940.1,1033.1L1940.5,1037.1L1940.9,1041.1L1941.3,1045.1L1941.7,1049.0L1942.1,1053.0L1942.4,1057.0L1942.8,1061.0L1943.2,1065.0L1943.6,1069.0L1943.9,1073.0L1944.3,1077.0L1944.7,1081.0L1945.0,1085.0L1945.4,1089.0L1945.7,1093.0L1946.1,1097.0L1946.4,1101.0L1946.8,1105.0L1947.1,1109.1L1947.5,1113.1L1947.8,1117.1L1948.2,1121.1L1948.5,1125.1L1948.8,1129.1L1949.2,1133.1L1949.5,1137.1L1949.9,1141.1L1950.2,1145.1L1950.5,1149.1L1950.9,1153.1L1951.2,1157.1L1951.6,1161.1L1951.9,1165.1L1952.2,1169.1L1952.6,1173.1L1952.9,1177.1L1953.2,1181.1L1953.6,1185.1L1953.9,1189.1L1954.3,1193.1L1954.6,1197.1L1955.0,1201.1L1955.3,1205.1L1955.7,1209.1L1956.0,1213.1L1956.4,1217.1L1956.7,1221.1L1957.1,1225.1L1957.4,1229.1L1957.8,1233.1L1958.2,1237.1L1958.5,1241.1L1958.9,1245.0L1959.3,1249.0L1959.6,1253.0L1960.0,1257.0L1960.4,1261.0L1960.8,1265.0L1961.2,1269.0L1961.5,1272.9L1961.9,1276.9L1962.3,1280.9L1962.7,1284.9L1963.1,1288.9L1963.6,1292.8L1964.0,1296.8L1964.4,1300.8L1964.8,1304.8L1965.2,1308.7L1965.7,1312.7L1966.1,1316.7L1966.6,1320.7L1967.0,1324.6L1967.5,1328.6L1967.9,1332.5L1968.4,1336.5L1968.9,1340.5L1969.3,1344.4L1969.8,1348.4L1970.4,1352.3L1970.9,1356.3L1971.5,1360.2L1972.0,1364.2L1972.7,1368.1L1973.3,1372.1L1974.0,1376.0L1974.7,1379.9L1975.4,1383.8L1976.2,1387.8L1977.1,1391.7L1977.9,1395.6L1978.9,1399.5L1979.9,1403.4L1980.9,1407.3L1982.0,1411.2L1983.2,1415.1L1984.4,1418.9L1985.7,1422.8L1987.1,1426.7L1988.5,1430.5L1990.0,1434.4L1991.6,1438.2L1993.2,1442.0L1995.0,1445.7L1996.8,1449.4L1998.7,1453.1L2000.7,1456.7L2002.7,1460.2L2004.9,1463.7L2007.1,1467.1L2009.4,1470.4L2011.8,1473.6L2014.3,1476.7L2016.8,1479.7L2019.5,1482.6L2022.3,1485.4L2025.1,1488.1L2028.0,1490.6L2031.1,1492.9L2034.2,1495.1L2037.4,1497.2L2040.7,1499.1L2044.2,1500.8L2047.7,1502.4L2051.2,1503.9L2054.9,1505.2L2058.6,1506.4L2062.4,1507.4L2066.3,1508.4L2070.2,1509.2L2074.1,1510.0L2078.1,1510.6L2082.2,1511.2L2086.2,1511.7L2090.3,1512.1L2094.4,1512.5L2098.6,1512.8L2102.7,1513.1L2106.8,1513.3L2111.0,1513.5L2115.1,1513.7L2119.3,1513.8L2123.4,1513.9L2127.5,1514.1L2131.5,1514.2L2135.5,1514.3L2139.5,1514.5L2143.5,1514.6L2147.5,1514.8L2151.4,1515.0L2155.3,1515.1L2159.2,1515.3L2163.1,1515.5L2167.0,1515.7L2170.9,1515.8L2174.8,1516.0L2178.8,1516.2L2182.7,1516.3L2186.7,1516.5L2190.6,1516.6L2194.6,1516.8L2198.7,1516.9L2202.7,1517.0L2206.9,1517.1L2211.0,1517.2L2215.2,1517.2L2219.5,1517.3" stroke="#008000" stroke-width="6.5" fill="none" stroke-linejoin="round" stroke-linecap="round"/>
<path d="M1721.2,1059.8L1722.9,1056.2L1724.5,1052.5L1726.2,1048.9L1727.8,1045.2L1729.4,1041.6L1731.1,1037.9L1732.7,1034.2L1734.4,1030.6L1736.0,1026.9L1737.6,1023.3L1739.3,1019.6L1741.0,1016.0L1742.6,1012.4L1744.3,1008.8L1746.0,1005.1L1747.7,1001.5L1749.4,997.9L1751.1,994.4L1752.8,990.8L1754.6,987.2L1756.4,983.7L1758.2,980.1L1760.0,976.6L1761.8,973.1L1763.6,969.6L1765.5,966.0L1767.3,962.5L1769.2,959.0L1771.1,955.5L1773.0,952.0L1775.0,948.4L1776.9,944.9L1778.8,941.4L1780.8,937.8L1782.8,934.3L1784.8,930.7L1786.8,927.1L1788.8,923.5L1790.8,919.9L1792.9,916.3L1794.9,912.7L1797.0,909.0L1799.1,905.4L1801.3,901.8L1803.5,898.3L1805.8,895.0L1808.2,891.7L1810.8,888.6L1813.5,885.6L1816.3,882.9L1819.3,880.4L1822.4,878.2L1825.8,876.2L1829.3,874.6L1833.0,873.3L1836.8,872.3L1840.6,871.8L1844.5,871.7L1848.3,872.1L1852.0,872.9L1855.7,874.1L1859.2,875.6L1862.5,877.3L1865.6,879.3L1868.5,881.5L1871.3,883.9L1873.9,886.5L1876.3,889.3L1878.6,892.2L1880.7,895.3L1882.7,898.6L1884.6,902.0L1886.3,905.5L1888.0,909.1L1889.5,912.8L1891.0,916.6L1892.4,920.5L1893.7,924.4L1894.9,928.4L1896.1,932.4L1897.3,936.5L1898.4,940.6L1899.5,944.7L1900.5,948.8L1901.6,952.8L1902.6,956.9L1903.7,960.9L1904.7,964.9L1905.8,968.9L1906.8,972.9L1907.8,976.8L1908.8,980.8L1909.8,984.7L1910.8,988.6L1911.8,992.5L1912.7,996.4L1913.7,1000.3L1914.6,1004.2L1915.5,1008.1L1916.4,1012.0L1917.3,1015.8L1918.2,1019.7L1919.1,1023.6L1919.9,1027.5L1920.7,1031.3L1921.5,1035.2L1922.3,1039.1L1923.1,1043.0L1923.9,1046.9L1924.6,1050.8L1925.3,1054.7L1926.0,1058.6L1926.7,1062.5L1927.4,1066.4L1928.0,1070.3L1928.6,1074.2L1929.3,1078.2L1929.9,1082.1L1930.5,1086.0L1931.0,1090.0L1931.6,1093.9L1932.1,1097.8L1932.7,1101.8L1933.2,1105.7L1933.7,1109.7L1934.2,1113.7L1934.7,1117.6L1935.2,1121.6L1935.6,1125.6L1936.1,1129.5L1936.5,1133.5L1937.0,1137.5L1937.4,1141.4L1937.8,1145.4L1938.2,1149.4L1938.6,1153.4L1939.0,1157.4L1939.4,1161.4L1939.8,1165.4L1940.1,1169.4L1940.5,1173.4L1940.8,1177.4L1941.2,1181.4L1941.5,1185.4L1941.9,1189.4L1942.2,1193.4L1942.5,1197.4L1942.9,1201.4L1943.2,1205.4L1943.5,1209.4L1943.8,1213.4L1944.1,1217.4L1944.5,1221.4L1944.8,1225.4L1945.1,1229.4L1945.4,1233.4L1945.7,1237.5L1946.0,1241.5L1946.3,1245.5L1946.6,1249.5L1946.9,1253.5L1947.3,1257.5L1947.6,1261.5L1947.9,1265.6L1948.2,1269.6L1948.5,1273.6L1948.9,1277.6L1949.2,1281.6L1949.5,1285.6L1949.9,1289.6L1950.2,1293.6L1950.5,1297.6L1950.9,1301.7L1951.3,1305.7L1951.6,1309.7L1952.0,1313.7L1952.4,1317.7L1952.8,1321.7L1953.2,1325.7L1953.6,1329.7L1954.0,1333.7L1954.4,1337.7L1954.8,1341.7L1955.3,1345.7L1955.7,1349.6L1956.2,1353.6L1956.6,1357.6L1957.1,1361.6L1957.6,1365.6L1958.1,1369.5L1958.6,1373.5L1959.2,1377.5L1959.7,1381.5L1960.3,1385.4L1960.8,1389.4L1961.4,1393.4L1962.0,1397.3L1962.7,1401.3L1963.3,1405.2L1964.0,1409.1L1964.7,1413.1L1965.4,1417.0L1966.2,1420.9L1967.0,1424.8L1967.9,1428.7L1968.8,1432.6L1969.7,1436.5L1970.7,1440.3L1971.8,1444.2L1972.9,1448.0L1974.1,1451.8L1975.4,1455.6L1976.7,1459.4L1978.1,1463.1L1979.5,1466.9L1981.1,1470.6L1982.7,1474.3L1984.4,1477.9L1986.2,1481.6L1988.1,1485.1L1989.7,1491.0L1987.5,1487.7L1985.4,1484.3L1983.5,1480.9L1981.6,1477.4L1979.9,1473.8L1978.2,1470.2L1976.6,1466.6L1975.1,1462.9L1973.7,1459.2L1972.4,1455.5L1971.1,1451.7L1969.9,1447.9L1968.8,1444.1L1967.7,1440.2L1966.7,1436.4L1965.7,1432.5L1964.8,1428.6L1963.9,1424.6L1963.1,1420.7L1962.3,1416.7L1961.6,1412.8L1960.8,1408.8L1960.2,1404.8L1959.5,1400.8L1958.9,1396.8L1958.3,1392.8L1957.7,1388.8L1957.1,1384.8L1956.5,1380.8L1956.0,1376.8L1955.4,1372.8L1954.9,1368.8L1954.4,1364.8L1953.9,1360.8L1953.4,1356.8L1952.9,1352.8L1952.4,1348.8L1952.0,1344.8L1951.5,1340.8L1951.1,1336.8L1950.7,1332.8L1950.3,1328.8L1949.9,1324.8L1949.5,1320.8L1949.1,1316.8L1948.7,1312.8L1948.3,1308.8L1947.9,1304.8L1947.6,1300.8L1947.2,1296.8L1946.9,1292.8L1946.5,1288.8L1946.2,1284.8L1945.8,1280.8L1945.5,1276.8L1945.2,1272.8L1944.8,1268.8L1944.5,1264.8L1944.2,1260.8L1943.9,1256.8L1943.5,1252.8L1943.2,1248.8L1942.9,1244.8L1942.6,1240.8L1942.3,1236.8L1942.0,1232.8L1941.6,1228.8L1941.3,1224.8L1941.0,1220.8L1940.7,1216.8L1940.4,1212.9L1940.0,1208.9L1939.7,1204.9L1939.4,1200.9L1939.0,1196.9L1938.7,1192.9L1938.3,1188.9L1938.0,1184.9L1937.6,1181.0L1937.3,1177.0L1936.9,1173.0L1936.5,1169.0L1936.1,1165.0L1935.7,1161.0L1935.3,1157.1L1934.9,1153.1L1934.5,1149.1L1934.1,1145.1L1933.6,1141.2L1933.2,1137.2L1932.7,1133.2L1932.3,1129.2L1931.8,1125.3L1931.3,1121.3L1930.8,1117.3L1930.3,1113.4L1929.8,1109.4L1929.2,1105.4L1928.7,1101.5L1928.1,1097.5L1927.5,1093.6L1926.9,1089.6L1926.3,1085.6L1925.7,1081.7L1925.0,1077.7L1924.4,1073.8L1923.7,1069.8L1923.0,1065.9L1922.3,1061.9L1921.6,1058.0L1920.8,1054.0L1920.0,1050.1L1919.3,1046.2L1918.5,1042.2L1917.6,1038.3L1916.8,1034.3L1915.9,1030.4L1915.1,1026.5L1914.2,1022.6L1913.3,1018.6L1912.4,1014.7L1911.5,1010.8L1910.6,1006.9L1909.7,1003.0L1908.8,999.1L1907.8,995.2L1906.9,991.3L1906.0,987.4L1905.1,983.5L1904.2,979.6L1903.2,975.7L1902.3,971.8L1901.4,968.0L1900.5,964.1L1899.7,960.3L1898.7,956.4L1897.8,952.5L1896.8,948.7L1895.8,944.8L1894.7,940.8L1893.5,936.9L1892.3,932.9L1890.9,928.9L1889.5,924.9L1887.9,920.9L1886.2,916.9L1884.4,912.9L1882.5,909.1L1880.5,905.3L1878.3,901.8L1876.0,898.4L1873.6,895.2L1871.0,892.2L1868.3,889.5L1865.4,887.2L1862.4,885.1L1859.3,883.4L1856.1,882.1L1852.8,881.1L1849.5,880.4L1846.2,880.2L1842.9,880.3L1839.6,880.8L1836.3,881.6L1833.2,882.9L1830.2,884.6L1827.2,886.6L1824.4,889.0L1821.6,891.6L1819.0,894.5L1816.4,897.6L1813.9,900.9L1811.4,904.4L1809.1,908.0L1806.7,911.6L1804.5,915.3L1802.2,919.0L1800.0,922.7L1797.9,926.4L1795.8,930.0L1793.7,933.6L1791.6,937.2L1789.6,940.8L1787.6,944.4L1785.7,947.9L1783.7,951.5L1781.8,955.0L1780.0,958.5L1778.1,962.0L1776.3,965.5L1774.5,969.1L1772.7,972.6L1770.9,976.1L1769.2,979.6L1767.5,983.1L1765.8,986.7L1764.1,990.2L1762.4,993.8L1760.7,997.3L1759.1,1000.9L1757.5,1004.5L1755.8,1008.1L1754.2,1011.7L1752.6,1015.4L1751.0,1019.0L1749.4,1022.7L1747.8,1026.4L1746.2,1030.0L1744.6,1033.7L1743.0,1037.4L1741.5,1041.1L1739.9,1044.8L1738.3,1048.5L1736.7,1052.2L1735.1,1055.9L1733.5,1059.7Z" fill="#0000ff"/>
<path d="M377.7,1522.7L381.7,1522.7L385.7,1522.7L389.7,1522.7L393.7,1522.6L397.8,1522.6L401.8,1522.6L405.8,1522.6L409.8,1522.5L413.8,1522.5L417.8,1522.5L421.8,1522.4L425.8,1522.4L429.9,1522.3L433.9,1522.3L437.9,1522.2L441.9,1522.2L445.9,1522.1L449.9,1522.1L453.9,1522.0L457.9,1521.9L461.9,1521.9L465.9,1521.8L469.9,1521.7L474.0,1521.6L478.0,1521.6L482.0,1521.5L486.0,1521.4L490.0,1521.3L494.0,1521.2L498.0,1521.1L502.0,1521.0L506.0,1520.9L510.0,1520.8L514.0,1520.7L518.0,1520.6L522.1,1520.5L526.1,1520.4L530.1,1520.2L534.1,1520.1L538.1,1520.0L542.1,1519.9L546.1,1519.7L550.1,1519.6L554.1,1519.5L558.1,1519.3L562.1,1519.2L566.1,1519.0L570.1,1518.9L574.1,1518.7L578.1,1518.6L582.2,1518.4L586.2,1518.3L590.2,1518.1L594.2,1518.0L598.2,1517.8L602.2,1517.6L606.2,1517.4L610.2,1517.3L614.2,1517.1L618.2,1516.9L622.2,1516.7L626.2,1516.5L630.2,1516.3L634.2,1516.2L638.2,1516.0L642.3,1515.8L646.3,1515.6L650.3,1515.4L654.3,1515.1L658.3,1514.9L662.3,1514.7L666.3,1514.5L670.3,1514.3L674.3,1514.0L678.3,1513.8L682.3,1513.5L686.3,1513.3L690.3,1513.0L694.3,1512.7L698.3,1512.4L702.3,1512.1L706.3,1511.8L710.3,1511.5L714.3,1511.2L718.3,1510.8L722.3,1510.5L726.3,1510.1L730.3,1509.7L734.3,1509.3L738.3,1508.9L742.3,1508.5L746.2,1508.1L750.2,1507.6L754.2,1507.1L758.2,1506.6L762.2,1506.1L766.1,1505.6L770.1,1505.0L774.1,1504.5L778.1,1503.9L782.0,1503.3L786.0,1502.7L789.9,1502.0L793.9,1501.4L797.9,1500.7L801.8,1500.0L805.8,1499.3L809.7,1498.6L813.7,1497.9L817.6,1497.2L821.6,1496.4L825.5,1495.7L829.5,1494.9L833.4,1494.1L837.3,1493.3L841.3,1492.5L845.2,1491.7L849.1,1490.9L853.1,1490.1L857.0,1489.3L860.9,1488.4L864.9,1487.6L868.8,1486.7L872.7,1485.9L876.6,1485.0L880.5,1484.1L884.5,1483.2L888.4,1482.4L892.3,1481.5L896.2,1480.6L900.1,1479.7L904.0,1478.8L907.9,1477.9L911.9,1477.0L915.8,1476.1L919.7,1475.2L923.6,1474.3L927.5,1473.4L931.4,1472.5L935.3,1471.6L939.2,1470.7L943.1,1469.8L947.0,1468.9L950.9,1467.9L954.8,1467.0L958.7,1466.1L962.6,1465.2L966.4,1464.2L970.3,1463.3L974.2,1462.4L978.1,1461.4L982.0,1460.5L985.9,1459.6L989.8,1458.6L993.7,1457.7L997.6,1456.7L1001.5,1455.8L1005.3,1454.9L1009.2,1453.9L1013.1,1453.0L1017.0,1452.0L1020.9,1451.1L1024.8,1450.1L1028.7,1449.2L1032.5,1448.2L1036.4,1447.3L1040.3,1446.3L1044.2,1445.4L1048.1,1444.4L1052.0,1443.5L1055.8,1442.5L1059.7,1441.6L1063.6,1440.6L1067.5,1439.7L1071.4,1438.7L1075.3,1437.8L1079.1,1436.8L1083.0,1435.9L1086.9,1434.9L1090.8,1434.0L1094.7,1433.0L1098.6,1432.1L1102.5,1431.1L1106.3,1430.2L1110.2,1429.3L1114.1,1428.3L1118.0,1427.4L1121.9,1426.4L1125.8,1425.5L1129.7,1424.5L1133.6,1423.6L1137.5,1422.7L1141.4,1421.7L1145.3,1420.8L1149.2,1419.9L1153.0,1418.9L1156.9,1418.0L1160.8,1417.1L1164.7,1416.2L1168.6,1415.2L1172.5,1414.3L1176.4,1413.4L1180.3,1412.5L1184.3,1411.6L1188.2,1410.7L1192.1,1409.8L1196.0,1408.9L1199.9,1407.9L1203.8,1407.0L1207.7,1406.1L1211.6,1405.3L1215.5,1404.4L1219.5,1403.5L1223.4,1402.6L1227.3,1401.7L1231.2,1400.8L1235.1,1399.9L1239.1,1399.1L1243.0,1398.2L1246.9,1397.3L1250.9,1396.5L1254.8,1395.6L1258.7,1394.8L1262.7,1393.9L1266.6,1393.1L1270.5,1392.2L1274.5,1391.4L1278.4,1390.5L1282.4,1389.7L1286.3,1388.8L1290.2,1388.0L1294.2,1387.2L1298.1,1386.3L1302.1,1385.5L1306.0,1384.6L1310.0,1383.7L1313.9,1382.9L1317.8,1382.0L1321.8,1381.1L1325.7,1380.3L1329.6,1379.4L1333.6,1378.5L1337.5,1377.6L1341.4,1376.7L1345.3,1375.8L1349.3,1374.8L1353.2,1373.9L1357.1,1373.0L1361.0,1372.0L1364.9,1371.0L1368.8,1370.0L1372.7,1369.0L1376.6,1368.0L1380.5,1367.0L1384.3,1366.0L1388.2,1364.9L1392.1,1363.8L1395.9,1362.8L1399.8,1361.6L1403.6,1360.5L1407.5,1359.4L1411.3,1358.2L1415.1,1357.0L1419.0,1355.8L1422.8,1354.6L1426.6,1353.4L1430.4,1352.1L1434.1,1350.8L1437.9,1349.5L1441.7,1348.2L1445.5,1346.8L1449.2,1345.4L1452.9,1344.0L1456.7,1342.5L1460.4,1341.1L1464.1,1339.6L1467.8,1338.1L1471.5,1336.5L1475.2,1334.9L1478.8,1333.3L1482.5,1331.7L1486.1,1330.0L1489.8,1328.3L1493.4,1326.6L1497.0,1324.9L1500.6,1323.1L1504.2,1321.3L1507.7,1319.5L1511.3,1317.6L1514.8,1315.7L1518.3,1313.8L1521.8,1311.9L1525.3,1309.9L1528.8,1307.9L1532.3,1305.9L1535.7,1303.8L1539.1,1301.7L1542.5,1299.6L1545.9,1297.5L1549.3,1295.3L1552.6,1293.2L1556.0,1290.9L1559.3,1288.7L1562.6,1286.4L1565.9,1284.1L1569.1,1281.8L1572.4,1279.5L1575.6,1277.1L1578.8,1274.7L1581.9,1272.3L1585.1,1269.8L1588.2,1267.3L1591.3,1264.8L1594.4,1262.3L1597.5,1259.7L1600.5,1257.1L1603.5,1254.5L1606.5,1251.9L1609.5,1249.2L1612.4,1246.5L1615.3,1243.8L1618.2,1241.1L1621.1,1238.3L1623.9,1235.5L1626.8,1232.7L1629.5,1229.9L1632.3,1227.0L1635.0,1224.1L1637.7,1221.2L1640.4,1218.2L1643.1,1215.3L1645.7,1212.3L1648.3,1209.2L1650.9,1206.2L1653.4,1203.1L1655.9,1200.0L1658.4,1196.9L1660.8,1193.8L1663.2,1190.6L1665.6,1187.4L1668.0,1184.2L1670.3,1180.9L1672.6,1177.6L1674.8,1174.4L1677.1,1171.0L1679.3,1167.7L1681.4,1164.3L1683.5,1160.9L1685.6,1157.5L1687.7,1154.1L1689.7,1150.6L1691.7,1147.1L1693.7,1143.6L1695.6,1140.1L1697.6,1136.6L1699.5,1133.0L1701.3,1129.5L1703.2,1125.9L1705.0,1122.3L1706.8,1118.7L1708.6,1115.0L1710.3,1111.4L1712.1,1107.7L1713.8,1104.1L1715.5,1100.4L1717.2,1096.7L1718.9,1093.0L1720.6,1089.3L1722.2,1085.6L1723.9,1081.9L1725.5,1078.2L1727.1,1074.5L1728.7,1070.8L1730.3,1067.1L1731.9,1063.4L1733.5,1059.7L1735.1,1055.9L1736.7,1052.2L1738.3,1048.5L1739.9,1044.8L1741.5,1041.1L1743.0,1037.4L1744.6,1033.7L1746.2,1030.0L1747.8,1026.4L1749.4,1022.7L1751.0,1019.0L1752.6,1015.4L1754.2,1011.7L1755.8,1008.1L1757.5,1004.5L1759.1,1000.9L1760.7,997.3L1762.4,993.8L1764.1,990.2L1765.8,986.7L1767.5,983.1L1769.2,979.6L1770.9,976.1L1772.7,972.6L1774.5,969.1L1776.3,965.5L1778.1,962.0L1780.0,958.5L1781.8,955.0L1783.7,951.5L1785.7,947.9L1787.6,944.4L1789.6,940.8L1791.6,937.2L1793.7,933.6L1795.8,930.0L1797.9,926.4L1800.0,922.7L1802.2,919.0L1804.5,915.3L1806.7,911.6L1809.1,908.0L1811.4,904.4L1813.9,900.9L1816.4,897.6L1819.0,894.5L1821.6,891.6L1824.4,889.0L1827.2,886.6L1830.2,884.6L1833.2,882.9L1836.3,881.6L1839.6,880.8L1842.9,880.3L1846.2,880.2L1849.5,880.4L1852.8,881.1L1856.1,882.1L1859.3,883.4L1862.4,885.1L1865.4,887.2L1868.3,889.5L1871.0,892.2L1873.6,895.2L1876.0,898.4L1878.3,901.8L1880.5,905.3L1882.5,909.1L1884.4,912.9L1886.2,916.9L1887.9,920.9L1889.5,924.9L1890.9,928.9L1892.3,932.9L1893.5,936.9L1894.7,940.8L1895.8,944.8L1896.8,948.7L1897.8,952.5L1898.7,956.4L1899.7,960.3L1900.5,964.1L1901.4,968.0L1902.3,971.8L1903.2,975.7L1904.2,979.6L1905.1,983.5L1906.0,987.4L1906.9,991.3L1907.8,995.2L1908.8,999.1L1909.7,1003.0L1910.6,1006.9L1911.5,1010.8L1912.4,1014.7L1913.3,1018.6L1914.2,1022.6L1915.1,1026.5L1915.9,1030.4L1916.8,1034.3L1917.6,1038.3L1918.5,1042.2L1919.3,1046.2L1920.0,1050.1L1920.8,1054.0L1921.6,1058.0L1922.3,1061.9L1923.0,1065.9L1923.7,1069.8L1924.4,1073.8L1925.0,1077.7L1925.7,1081.7L1926.3,1085.6L1926.9,1089.6L1927.5,1093.6L1928.1,1097.5L1928.7,1101.5L1929.2,1105.4L1929.8,1109.4L1930.3,1113.4L1930.8,1117.3L1931.3,1121.3L1931.8,1125.3L1932.3,1129.2L1932.7,1133.2L1933.2,1137.2L1933.6,1141.2L1934.1,1145.1L1934.5,1149.1L1934.9,1153.1L1935.3,1157.1L1935.7,1161.0L1936.1,1165.0L1936.5,1169.0L1936.9,1173.0L1937.3,1177.0L1937.6,1181.0L1938.0,1184.9L1938.3,1188.9L1938.7,1192.9L1939.0,1196.9L1939.4,1200.9L1939.7,1204.9L1940.0,1208.9L1940.4,1212.9L1940.7,1216.8L1941.0,1220.8L1941.3,1224.8L1941.6,1228.8L1942.0,1232.8L1942.3,1236.8L1942.6,1240.8L1942.9,1244.8L1943.2,1248.8L1943.5,1252.8L1943.9,1256.8L1944.2,1260.8L1944.5,1264.8L1944.8,1268.8L1945.2,1272.8L1945.5,1276.8L1945.8,1280.8L1946.2,1284.8L1946.5,1288.8L1946.9,1292.8L1947.2,1296.8L1947.6,1300.8L1947.9,1304.8L1948.3,1308.8L1948.7,1312.8L1949.1,1316.8L1949.5,1320.8L1949.9,1324.8L1950.3,1328.8L1950.7,1332.8L1951.1,1336.8L1951.5,1340.8L1952.0,1344.8L1952.4,1348.8L1952.9,1352.8L1953.4,1356.8L1953.9,1360.8L1954.4,1364.8L1954.9,1368.8L1955.4,1372.8L1956.0,1376.8L1956.5,1380.8L1957.1,1384.8L1957.7,1388.8L1958.3,1392.8L1958.9,1396.8L1959.5,1400.8L1960.2,1404.8L1960.8,1408.8L1961.6,1412.8L1962.3,1416.7L1963.1,1420.7L1963.9,1424.6L1964.8,1428.6L1965.7,1432.5L1966.7,1436.4L1967.7,1440.2L1968.8,1444.1L1969.9,1447.9L1971.1,1451.7L1972.4,1455.5L1973.7,1459.2L1975.1,1462.9L1976.6,1466.6L1978.2,1470.2L1979.9,1473.8L1981.6,1477.4L1983.5,1480.9L1985.4,1484.3L1987.5,1487.7L1989.7,1491.0L1991.9,1494.2L1994.3,1497.2L1996.9,1500.2L1999.5,1502.9L2002.3,1505.5L2005.3,1507.9L2008.4,1510.1L2011.7,1512.1L2015.1,1513.9L2018.7,1515.5L2022.4,1516.9L2026.2,1518.1L2030.0,1519.1L2034.0,1520.0L2038.0,1520.8L2042.1,1521.5L2046.2,1522.2L2050.3,1522.7L2054.3,1523.2L2058.4,1523.7L2062.5,1524.1L2066.6,1524.5L2070.6,1524.9L2074.7,1525.2L2078.7,1525.5L2082.7,1525.7L2086.8,1525.9L2090.8,1526.1L2094.8,1526.3L2098.8,1526.5L2102.9,1526.6L2106.9,1526.7L2110.9,1526.9L2114.9,1527.0L2118.9,1527.1L2122.9,1527.1L2126.9,1527.2L2130.9,1527.3L2134.9,1527.4L2138.8,1527.5L2142.8,1527.6L2146.8,1527.7L2150.8,1527.8L2154.8,1527.9L2158.8,1528.0L2162.8,1528.2L2166.8,1528.3L2170.8,1528.4L2174.8,1528.5L2178.8,1528.6L2182.8,1528.6L2186.8,1528.7L2190.8,1528.8L2194.8,1528.8L2198.8,1528.8L2202.9,1528.8L2206.9,1528.8L2210.9,1528.8L2215.0,1528.7L2219.0,1528.6" stroke="#0000ff" stroke-width="8" fill="none" stroke-linejoin="round" stroke-linecap="round"/>
<path d="M377.5,1026.7L381.5,1026.7L385.6,1026.7L389.6,1026.8L393.7,1026.8L397.7,1026.9L401.8,1026.9L405.8,1027.0L409.9,1027.1L413.9,1027.1L418.0,1027.2L422.0,1027.3L426.1,1027.4L430.1,1027.5L434.2,1027.6L438.2,1027.6L442.3,1027.7L446.3,1027.9L450.3,1028.0L454.4,1028.1L458.4,1028.2L462.5,1028.3L466.5,1028.4L470.5,1028.6L474.6,1028.7L478.6,1028.9L482.6,1029.0L486.7,1029.1L490.7,1029.3L494.7,1029.5L498.8,1029.6L502.8,1029.8L506.8,1030.0L510.8,1030.1L514.9,1030.3L518.9,1030.5L522.9,1030.7L526.9,1030.9L531.0,1031.1L535.0,1031.3L539.0,1031.5L543.0,1031.7L547.0,1031.9L551.1,1032.2L555.1,1032.4L559.1,1032.6L563.1,1032.9L567.1,1033.1L571.1,1033.4L575.1,1033.6L579.2,1033.9L583.2,1034.1L587.2,1034.4L591.2,1034.7L595.2,1034.9L599.2,1035.2L603.2,1035.5L607.2,1035.8L611.2,1036.1L615.2,1036.4L619.2,1036.7L623.2,1037.0L627.2,1037.3L631.2,1037.6L635.2,1038.0L639.2,1038.3L643.2,1038.6L647.2,1039.0L651.2,1039.3L655.2,1039.7L659.2,1040.0L663.2,1040.4L667.2,1040.7L671.2,1041.1L675.1,1041.5L679.1,1041.9L683.1,1042.2L687.1,1042.6L691.1,1043.0L695.1,1043.4L699.1,1043.8L703.0,1044.2L707.0,1044.6L711.0,1045.1L715.0,1045.5L719.0,1045.9L722.9,1046.3L726.9,1046.8L730.9,1047.2L734.9,1047.7L738.8,1048.1L742.8,1048.6L746.8,1049.1L750.8,1049.5L754.7,1050.0L758.7,1050.5L762.7,1051.0L766.6,1051.5L770.6,1051.9L774.6,1052.4L778.5,1053.0L782.5,1053.5L786.4,1054.0L790.4,1054.5L794.4,1055.0L798.3,1055.6L802.3,1056.1L806.2,1056.6L810.2,1057.2L814.2,1057.7L818.1,1058.3L822.1,1058.9L826.0,1059.4L830.0,1060.0L833.9,1060.6L837.9,1061.2L841.8,1061.8L845.8,1062.4L849.7,1063.0L853.7,1063.6L857.6,1064.2L861.6,1064.8L865.5,1065.4L869.4,1066.0L873.4,1066.7L877.3,1067.3L881.3,1068.0L885.2,1068.6L889.1,1069.3L893.1,1069.9L897.0,1070.6L901.0,1071.3L904.9,1071.9L908.8,1072.6L912.8,1073.3L916.7,1074.0L920.6,1074.7L924.5,1075.4L928.5,1076.1L932.4,1076.8L936.3,1077.6L940.3,1078.3L944.2,1079.0L948.1,1079.8L952.0,1080.5L955.9,1081.2L959.9,1082.0L963.8,1082.8L967.7,1083.5L971.6,1084.3L975.5,1085.1L979.5,1085.9L983.4,1086.7L987.3,1087.4L991.2,1088.2L995.1,1089.1L999.0,1089.9L1002.9,1090.7L1006.8,1091.5L1010.8,1092.3L1014.7,1093.2L1018.6,1094.0L1022.5,1094.9L1026.4,1095.7L1030.3,1096.6L1034.2,1097.4L1038.1,1098.3L1042.0,1099.2L1045.9,1100.1L1049.8,1100.9L1053.7,1101.8L1057.6,1102.7L1061.5,1103.6L1065.4,1104.6L1069.3,1105.5L1073.2,1106.4L1077.1,1107.3L1080.9,1108.3L1084.8,1109.2L1088.7,1110.1L1092.6,1111.1L1096.5,1112.0L1100.4,1113.0L1104.3,1114.0L1108.2,1115.0L1112.0,1115.9L1115.9,1116.9L1119.8,1117.9L1123.7,1118.9L1127.6,1119.9L1131.5,1120.9L1135.3,1122.0L1139.2,1123.0L1143.1,1124.0L1147.0,1125.0L1150.8,1126.1L1154.7,1127.1L1158.6,1128.2L1162.5,1129.3L1166.3,1130.3L1170.2,1131.4L1174.1,1132.5L1177.9,1133.6L1181.8,1134.6L1185.7,1135.7L1189.5,1136.8L1193.4,1138.0L1197.3,1139.1L1201.1,1140.2L1205.0,1141.3L1208.8,1142.5L1212.7,1143.6L1216.6,1144.7L1220.4,1145.9L1224.3,1147.1L1228.1,1148.2L1232.0,1149.4L1235.8,1150.6L1239.7,1151.8L1243.5,1153.0L1247.4,1154.2L1251.2,1155.4L1255.1,1156.6L1258.9,1157.8L1262.8,1159.0L1266.6,1160.2L1270.5,1161.5L1274.3,1162.7L1278.1,1164.0L1282.0,1165.2L1285.8,1166.5L1289.7,1167.7L1293.5,1169.0L1297.3,1170.3L1301.2,1171.6L1305.0,1172.9L1308.9,1174.2L1312.7,1175.5L1316.5,1176.8L1320.4,1178.1L1324.2,1179.4L1328.0,1180.8L1331.8,1182.1L1335.7,1183.5L1339.5,1184.8L1343.3,1186.2L1347.2,1187.5L1351.0,1188.9L1354.8,1190.3L1358.6,1191.7L1362.4,1193.0L1366.3,1194.4L1370.1,1195.9L1373.9,1197.3L1377.7,1198.7L1381.5,1200.1L1385.4,1201.5L1389.2,1202.9L1393.0,1204.4L1396.8,1205.8L1400.6,1207.2L1404.4,1208.5L1408.2,1209.9L1412.0,1211.3L1415.9,1212.6L1419.7,1214.0L1423.5,1215.3L1427.3,1216.5L1431.1,1217.8L1434.9,1219.0L1438.7,1220.2L1442.5,1221.3L1446.3,1222.4L1450.2,1223.5L1454.0,1224.6L1457.8,1225.5L1461.6,1226.5L1465.4,1227.4L1469.2,1228.2L1473.0,1229.0L1476.9,1229.8L1480.7,1230.4L1484.5,1231.1L1488.3,1231.6L1492.1,1232.1L1496.0,1232.5L1499.8,1232.9L1503.6,1233.2L1507.4,1233.4L1511.3,1233.5L1515.1,1233.5L1518.9,1233.5L1522.8,1233.4L1526.6,1233.2L1530.4,1232.9L1534.3,1232.5L1538.1,1232.1L1541.9,1231.5L1545.8,1230.8L1549.6,1230.1L1553.5,1229.2L1557.3,1228.2L1561.2,1227.1L1565.0,1226.0L1568.9,1224.7L1572.7,1223.3L1576.5,1221.8L1580.4,1220.2L1584.2,1218.5L1587.9,1216.8L1591.7,1215.0L1595.4,1213.0L1599.1,1211.0L1602.8,1209.0L1606.4,1206.8L1610.0,1204.6L1613.5,1202.3L1617.0,1200.0L1620.5,1197.6L1623.9,1195.1L1627.2,1192.6L1630.5,1190.0L1633.7,1187.4L1636.9,1184.7L1640.0,1182.0L1643.0,1179.2L1646.0,1176.4L1648.9,1173.6L1651.7,1170.7L1654.5,1167.8L1657.2,1164.8L1659.9,1161.8L1662.5,1158.8L1665.0,1155.8L1667.5,1152.7L1670.0,1149.5L1672.4,1146.4L1674.8,1143.2L1677.1,1139.9L1679.4,1136.7L1681.6,1133.4L1683.8,1130.1L1685.9,1126.8L1688.0,1123.4L1690.1,1120.0L1692.1,1116.6L1694.1,1113.2L1696.1,1109.7L1698.1,1106.3L1700.0,1102.8L1701.9,1099.3L1703.7,1095.7L1705.6,1092.2L1707.4,1088.6L1709.1,1085.1L1710.9,1081.5L1712.7,1077.9L1714.4,1074.3L1716.1,1070.7L1717.8,1067.1L1719.5,1063.4L1721.2,1059.8L1722.9,1056.2L1724.5,1052.5L1726.2,1048.9L1727.8,1045.2L1729.4,1041.6L1731.1,1037.9L1732.7,1034.2L1734.4,1030.6L1736.0,1026.9L1737.6,1023.3L1739.3,1019.6L1741.0,1016.0L1742.6,1012.4L1744.3,1008.8L1746.0,1005.1L1747.7,1001.5L1749.4,997.9L1751.1,994.4L1752.8,990.8L1754.6,987.2L1756.4,983.7L1758.2,980.1L1760.0,976.6L1761.8,973.1L1763.6,969.6L1765.5,966.0L1767.3,962.5L1769.2,959.0L1771.1,955.5L1773.0,952.0L1775.0,948.4L1776.9,944.9L1778.8,941.4L1780.8,937.8L1782.8,934.3L1784.8,930.7L1786.8,927.1L1788.8,923.5L1790.8,919.9L1792.9,916.3L1794.9,912.7L1797.0,909.0L1799.1,905.4L1801.3,901.8L1803.5,898.3L1805.8,895.0L1808.2,891.7L1810.8,888.6L1813.5,885.6L1816.3,882.9L1819.3,880.4L1822.4,878.2L1825.8,876.2L1829.3,874.6L1833.0,873.3L1836.8,872.3L1840.6,871.8L1844.5,871.7L1848.3,872.1L1852.0,872.9L1855.7,874.1L1859.2,875.6L1862.5,877.3L1865.6,879.3L1868.5,881.5L1871.3,883.9L1873.9,886.5L1876.3,889.3L1878.6,892.2L1880.7,895.3L1882.7,898.6L1884.6,902.0L1886.3,905.5L1888.0,909.1L1889.5,912.8L1891.0,916.6L1892.4,920.5L1893.7,924.4L1894.9,928.4L1896.1,932.4L1897.3,936.5L1898.4,940.6L1899.5,944.7L1900.5,948.8L1901.6,952.8L1902.6,956.9L1903.7,960.9L1904.7,964.9L1905.8,968.9L1906.8,972.9L1907.8,976.8L1908.8,980.8L1909.8,984.7L1910.8,988.6L1911.8,992.5L1912.7,996.4L1913.7,1000.3L1914.6,1004.2L1915.5,1008.1L1916.4,1012.0L1917.3,1015.8L1918.2,1019.7L1919.1,1023.6L1919.9,1027.5L1920.7,1031.3L1921.5,1035.2L1922.3,1039.1L1923.1,1043.0L1923.9,1046.9L1924.6,1050.8L1925.3,1054.7L1926.0,1058.6L1926.7,1062.5L1927.4,1066.4L1928.0,1070.3L1928.6,1074.2L1929.3,1078.2L1929.9,1082.1L1930.5,1086.0L1931.0,1090.0L1931.6,1093.9L1932.1,1097.8L1932.7,1101.8L1933.2,1105.7L1933.7,1109.7L1934.2,1113.7L1934.7,1117.6L1935.2,1121.6L1935.6,1125.6L1936.1,1129.5L1936.5,1133.5L1937.0,1137.5L1937.4,1141.4L1937.8,1145.4L1938.2,1149.4L1938.6,1153.4L1939.0,1157.4L1939.4,1161.4L1939.8,1165.4L1940.1,1169.4L1940.5,1173.4L1940.8,1177.4L1941.2,1181.4L1941.5,1185.4L1941.9,1189.4L1942.2,1193.4L1942.5,1197.4L1942.9,1201.4L1943.2,1205.4L1943.5,1209.4L1943.8,1213.4L1944.1,1217.4L1944.5,1221.4L1944.8,1225.4L1945.1,1229.4L1945.4,1233.4L1945.7,1237.5L1946.0,1241.5L1946.3,1245.5L1946.6,1249.5L1946.9,1253.5L1947.3,1257.5L1947.6,1261.5L1947.9,1265.6L1948.2,1269.6L1948.5,1273.6L1948.9,1277.6L1949.2,1281.6L1949.5,1285.6L1949.9,1289.6L1950.2,1293.6L1950.5,1297.6L1950.9,1301.7L1951.3,1305.7L1951.6,1309.7L1952.0,1313.7L1952.4,1317.7L1952.8,1321.7L1953.2,1325.7L1953.6,1329.7L1954.0,1333.7L1954.4,1337.7L1954.8,1341.7L1955.3,1345.7L1955.7,1349.6L1956.2,1353.6L1956.6,1357.6L1957.1,1361.6L1957.6,1365.6L1958.1,1369.5L1958.6,1373.5L1959.2,1377.5L1959.7,1381.5L1960.3,1385.4L1960.8,1389.4L1961.4,1393.4L1962.0,1397.3L1962.7,1401.3L1963.3,1405.2L1964.0,1409.1L1964.7,1413.1L1965.4,1417.0L1966.2,1420.9L1967.0,1424.8L1967.9,1428.7L1968.8,1432.6L1969.7,1436.5L1970.7,1440.3L1971.8,1444.2L1972.9,1448.0L1974.1,1451.8L1975.4,1455.6L1976.7,1459.4L1978.1,1463.1L1979.5,1466.9L1981.1,1470.6L1982.7,1474.3L1984.4,1477.9L1986.2,1481.6L1988.1,1485.1L1990.1,1488.6L1992.3,1492.0L1994.5,1495.2L1997.0,1498.3L1999.5,1501.2L2002.2,1503.9L2005.1,1506.4L2008.2,1508.7L2011.4,1510.7L2014.9,1512.5L2018.5,1514.0L2022.2,1515.3L2026.1,1516.4L2030.1,1517.4L2034.1,1518.2L2038.3,1518.9L2042.4,1519.5L2046.6,1520.0L2050.7,1520.5L2054.9,1521.0L2059.0,1521.4L2063.0,1521.8L2067.1,1522.2L2071.1,1522.6L2075.1,1523.0L2079.1,1523.3L2083.1,1523.6L2087.1,1523.9L2091.1,1524.2L2095.0,1524.5L2099.0,1524.8L2102.9,1525.0L2106.8,1525.2L2110.8,1525.4L2114.7,1525.6L2118.7,1525.8L2122.6,1525.9L2126.6,1526.1L2130.6,1526.2L2134.5,1526.3L2138.5,1526.4L2142.5,1526.5L2146.6,1526.6L2150.6,1526.7L2154.6,1526.7L2158.7,1526.8L2162.7,1526.8L2166.8,1526.8L2170.8,1526.9L2174.9,1526.9L2178.9,1526.9L2183.0,1526.9L2187.0,1527.0L2191.1,1527.0L2195.1,1527.0L2199.1,1527.1L2203.1,1527.1L2207.0,1527.1L2211.0,1527.2L2214.9,1527.3L2218.8,1527.3" stroke="#0000ff" stroke-width="6.5" fill="none" stroke-linejoin="round" stroke-linecap="round"/>
<text x="668.3" y="412.0" style="font-size:85px;fill:#ff0000;font-weight:bold">FC</text>
<text x="806.0" y="576.0" style="font-size:85px;fill:#ff0000;font-weight:bold;font-style:italic">T</text><text x="854.4" y="604.0" style="font-size:57px;fill:#ff0000;font-weight:bold;font-style:italic">f</text>
<text x="1141.0" y="471.0" style="font-size:85px;fill:#ff0000;font-weight:bold;font-style:italic">T</text><text x="1189.1" y="502.0" style="font-size:51px;fill:#ff0000;font-weight:bold;font-style:italic">irr</text>
<text x="1498.0" y="748.0" style="font-size:85px;fill:#ff0000;font-weight:bold;font-style:italic">T</text><text x="1548.9" y="778.0" style="font-size:49px;fill:#ff0000;font-weight:bold;font-style:italic">S</text><text x="1561.0" y="707.0" style="font-size:50px;fill:#ff0000;font-weight:bold;font-style:italic">A</text>
<text x="1740.0" y="483.0" style="font-size:85px;fill:#ff0000;font-weight:bold;font-style:italic">T</text><text x="1788.7" y="514.0" style="font-size:54px;fill:#ff0000;font-weight:bold;font-style:italic">F</text><text x="1803.6" y="442.0" style="font-size:52px;fill:#ff0000;font-weight:bold;font-style:italic">A</text>
<text x="1383.0" y="934.0" style="font-size:85px;fill:#008000;font-weight:bold;font-style:italic">T</text><text x="1433.1" y="964.0" style="font-size:49px;fill:#008000;font-weight:bold;font-style:italic">S</text><text x="1445.0" y="890.5" style="font-size:50px;fill:#008000;font-weight:bold;font-style:italic">A</text>
<text x="1531.0" y="889.0" style="font-size:85px;fill:#008000;font-weight:bold;font-style:italic">T</text><text x="1579.1" y="916.0" style="font-size:51px;fill:#008000;font-weight:bold;font-style:italic">irr</text>
<text x="1758.8" y="627.0" style="font-size:73px;fill:#008000;font-weight:bold;font-style:italic">T</text><text x="1800.2" y="654.0" style="font-size:47px;fill:#008000;font-weight:bold;font-style:italic">F</text><text x="1810.4" y="593.0" style="font-size:45px;fill:#008000;font-weight:bold;font-style:italic">A</text>
<text x="781.8" y="1025.5" style="font-size:85px;fill:#0000ff;font-weight:bold">FC</text>
<text x="1393.0" y="1175.0" style="font-size:85px;fill:#0000ff;font-weight:bold;font-style:italic">T</text><text x="1443.4" y="1203.0" style="font-size:49px;fill:#0000ff;font-weight:bold;font-style:italic">S</text><text x="1455.5" y="1132.0" style="font-size:50px;fill:#0000ff;font-weight:bold;font-style:italic">A</text>
<text x="1780.0" y="830.0" style="font-size:85px;fill:#0000ff;font-weight:bold;font-style:italic">T</text><text x="1828.1" y="860.0" style="font-size:54px;fill:#0000ff;font-weight:bold;font-style:italic">F</text><text x="1844.0" y="789.0" style="font-size:50px;fill:#0000ff;font-weight:bold;font-style:italic">A</text>
<text x="1801.0" y="1203.0" style="font-size:85px;fill:#0000ff;font-weight:bold;font-style:italic">T</text><text x="1850.1" y="1233.5" style="font-size:51px;fill:#0000ff;font-weight:bold;font-style:italic">irr</text>
<text x="1972.0" y="1009.0" style="font-size:85px;fill:#000000;font-weight:bold;font-style:italic">T</text><text x="2021.0" y="1039.0" style="font-size:50px;fill:#000000;font-weight:bold;font-style:italic">c</text>
<text transform="translate(891.6,769.1) rotate(-30)" style="font-size:83px;font-weight:bold;fill:#ff0000">ZFC</text>
<text transform="translate(891.1,1301.9) rotate(-42)" style="font-size:83px;font-weight:bold;font-style:italic;fill:#008000">ZFC</text>
<text transform="translate(1439.5,1475.5) rotate(-35)" style="font-size:84.5px;font-weight:bold;fill:#0000ff">ZFC</text>
<text transform="translate(1102,860) rotate(10)" style="font-size:83px;font-weight:bold;font-style:italic;fill:#008000">FC</text>
<path d="M914.0,559.0L983.0,583.0" stroke="#ff0000" stroke-width="5"/><path d="M1010.0,591.0L977.0,597.0L989.0,569.0Z" fill="#ff0000"/>
<path d="M1172.6,523.0L1190.8,596.0" stroke="#ff0000" stroke-width="5"/><path d="M1197.0,623.6L1175.0,600.0L1206.5,592.0Z" fill="#ff0000"/>
<path d="M1608.0,847.0L1648.5,862.5" stroke="#008000" stroke-width="5"/><path d="M1677.0,872.0L1642.0,876.5L1655.0,848.4Z" fill="#008000"/>
<path d="M1497.0,948.0L1524.8,974.0" stroke="#008000" stroke-width="5"/><path d="M1547.0,996.0L1515.6,984.0L1534.0,964.0Z" fill="#008000"/>
<path d="M1507.0,1170.0L1550.8,1200.2" stroke="#0000ff" stroke-width="5"/><path d="M1576.0,1215.0L1543.0,1212.4L1558.5,1188.0Z" fill="#0000ff"/>
<path d="M1820.0,1125.0L1772.0,1068.5" stroke="#0000ff" stroke-width="5"/><path d="M1752.0,1047.0L1761.5,1078.0L1782.6,1059.0Z" fill="#0000ff"/></svg></body></html>
